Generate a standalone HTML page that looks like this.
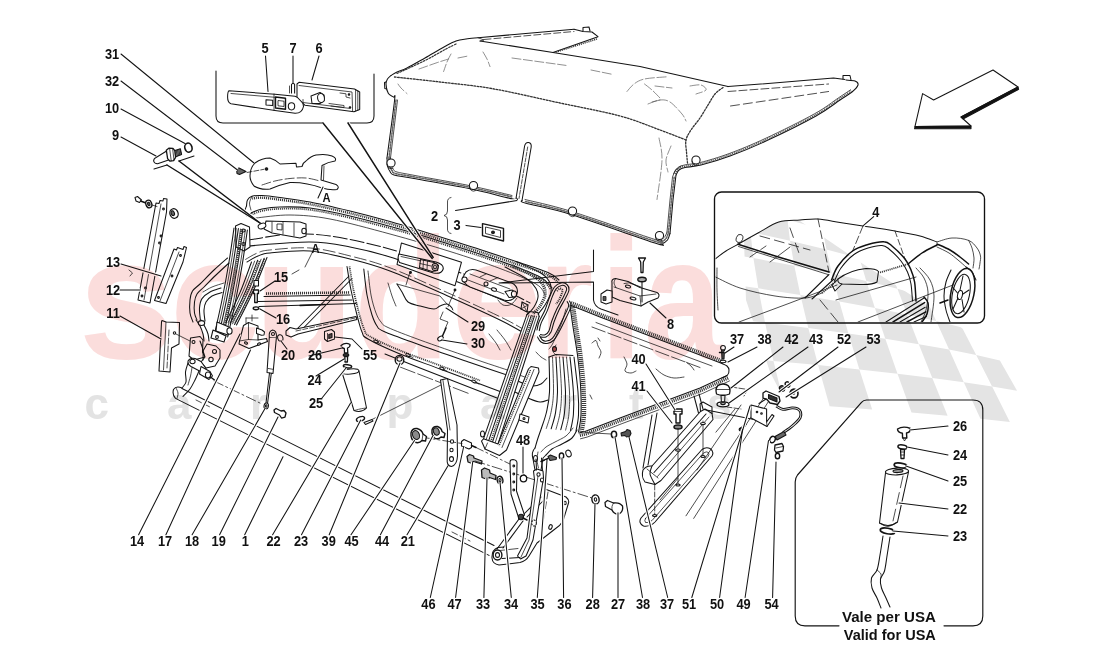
<!DOCTYPE html>
<html lang="en"><head><meta charset="utf-8"><title>Capote - Elements and Fixings</title>
<style>
html,body{margin:0;padding:0;background:#fff;}
body{width:1100px;height:653px;overflow:hidden;}
svg{display:block;}
text{font-family:"Liberation Sans",sans-serif;font-weight:bold;}
.l{fill:none;stroke:#141414;stroke-width:1.05;stroke-linecap:round;stroke-linejoin:round;}
.t{fill:none;stroke:#141414;stroke-width:0.75;stroke-linecap:round;stroke-linejoin:round;}
.b{fill:none;stroke:#111;stroke-width:1.5;stroke-linecap:round;stroke-linejoin:round;}
.h{fill:none;stroke:#3a3a3a;stroke-width:2.6;stroke-dasharray:1.1 0.9;}
.w{fill:#fff;stroke:#141414;stroke-width:1.05;stroke-linejoin:round;}
.n{font-size:14px;fill:#111;text-anchor:middle;}
</style></head><body>
<svg width="1100" height="653" viewBox="0 0 1100 653">
<!-- p00_bg -->
<polygon class="w" points="993,70 1018,87 961,117 971,126 915,126.4 922.6,93.6 933.6,100"/>
<polygon class="w" points="1018,87 1018.6,89.4 963,119 961,117" style="fill:#111"/>
<polygon class="w" points="915,126.4 971,126 971,128.6 914.6,128.8" style="fill:#111"/>
<rect class="b" x="714.5" y="192" width="270" height="131" rx="7" ry="7" fill="none" style="stroke-width:1.35"/>
<path class="l" d="M944 625.8H973Q982.8 625.8 982.8 616V410Q982.8 400 973 400H866.5Q863.5 400 861.5 402.3L797.5 475Q795.2 478 795.2 482V616Q795.2 625.8 805 625.8H839" style="stroke-width:1.15"/>
<path class="l" d="M216 71V116Q216 123 223 123H323"/>
<path class="l" d="M348 123H367Q374 123 374 116V74"/>
<!-- p10_cover -->
<path class="l" d="M391 75.5C392 74.9 394.3 73.2 397 72C399.7 70.8 402.3 70.3 407 68C411.7 65.7 418.8 61.5 425 58C431.2 54.5 438.8 49.8 444 47C449.2 44.2 452.3 42.3 456 41C459.7 39.7 462.3 39.5 466 39C469.7 38.5 469 38.5 478 37.7C487 36.9 504 35.4 520 34C536 32.6 565 30.1 574 29.3"/>
<polyline class="l" points="574,29.3 583,31.5 592,32 598,36.7 553,52.4"/>
<polyline class="l" points="583,31 583,27.5 589,27 590,31"/>
<polyline class="l" points="480,41 553,52.4 640,66.6 728,86.6"/>
<polyline class="t" points="478,37.7 484,40 480,41"/>
<polyline class="t" points="484,39.5 574,31.5" stroke-dasharray="7 3"/>
<polyline class="h" points="556,52 597,39" style="stroke-width:1.6"/>
<polyline class="l" points="728,86.6 780,82.5 833.5,78 845,79.5"/>
<polyline class="l" points="843,79 843,75.5 850,75.5 851,80"/>
<path class="l" d="M846 80C847.5 80.2 853 80.2 855 81C857 81.8 858.5 83.2 858 85C857.5 86.8 855 89.5 852 92C849 94.5 846 96 840 100C834 104 828.2 109.2 816 116C803.8 122.8 781.3 133.9 767 140.6C752.7 147.3 741 151.9 730 156C719 160.1 708.5 163.1 701 165C693.5 166.9 688.7 166.7 685 167.5C681.3 168.3 680.5 168.8 679 170C677.5 171.2 676.5 174.2 676 175"/>
<path class="t" d="M850.6 89.8C848.6 91.2 844.5 93.9 838.6 97.8C832.6 101.8 826.8 107 814.7 113.7C802.6 120.5 780.2 131.6 765.9 138.2C751.6 144.9 740 149.5 729.1 153.6C718.2 157.6 707.8 160.6 700.4 162.5C692.9 164.4 688.3 164 684.4 165C680.6 165.9 679.1 166.6 677.3 168C675.6 169.5 674.4 172.7 673.8 173.7"/>
<path class="h" d="M851.3 90.9C849.3 92.3 845.3 94.9 839.3 98.9C833.3 102.9 827.5 108.1 815.4 114.9C803.2 121.6 780.8 132.8 766.5 139.4C752.1 146.1 740.5 150.7 729.5 154.8C718.6 158.8 708.2 161.8 700.7 163.7C693.2 165.6 688.5 165.4 684.7 166.2C681 167.1 679.8 167.7 678.2 169C676.5 170.4 675.4 173.4 674.9 174.3" style="stroke-width:1.6;stroke:#555"/>
<polyline class="t" points="728,91.5 828.6,84" stroke-dasharray="8 3"/>
<polyline class="t" points="730.5,106 828.6,91.5" stroke-dasharray="9 4"/>
<path class="l" d="M391 75.5C390.4 76.1 388.3 77.6 387.5 79C386.7 80.4 385.9 81.6 386 84C386.1 86.4 387.1 91.4 388.4 93.6C389.6 95.8 392.5 95.8 393.5 97C394.5 98.2 395.6 90.8 394.5 101C393.4 111.2 388.2 148.5 387 158"/>
<polyline class="l" points="386,82 384.5,82.5 384.8,88.5 386.8,89"/>
<polyline class="t" points="397.5,100 390.5,158"/>
<polyline class="t" points="396,100 389,158" stroke-dasharray="1.5 1.5" style="stroke-width:1.6;stroke:#666"/>
<path class="l" d="M387 158C387.1 159.3 387 163.8 387.5 166C388 168.2 388.9 170 390 171.5C391.1 173 390 173.8 394 175C398 176.2 401.5 176.3 414 178.6C426.5 180.8 452.5 185.1 469 188.5C485.5 191.9 505.1 197.4 513 199C520.9 200.6 515.9 198.2 516.5 198"/>
<path class="t" d="M390.5 158C390.6 159.2 390.5 163.1 391 165C391.5 166.9 392.5 168.3 393.5 169.5C394.5 170.7 393.4 171 397 172C400.6 173 403 173.2 415 175.5C427 177.8 452.8 182.2 469 185.5C485.2 188.8 504.8 193.8 512 195.5"/>
<path class="t" d="M389 158C389.1 159.2 389 163.4 389.5 165.5C390 167.6 391 169.2 392 170.5C393 171.8 391.7 172.4 395.5 173.5C399.3 174.6 402.8 174.8 415 177C427.2 179.2 452.8 183.7 469 187C485.2 190.3 504.8 195.3 512 197" stroke-dasharray="1.5 1.5" style="stroke-width:1.6;stroke:#666"/>
<path class="l" d="M522 200.5C522.7 201 517.8 201 526 203.3C534.2 205.6 549.5 207.9 571 214.5C592.5 221.1 639.8 238.2 655 243C670.2 247.8 659.9 243.9 662 243.4C664.1 242.9 666.2 241.7 667.5 240C668.8 238.3 669.6 234.6 670 233.5"/>
<path class="t" d="M525 199.5C532.7 201.5 549.3 204.6 571 211.3C592.7 218 640 234.8 655 239.5C670 244.2 659.3 240 661 239.5C662.7 239 664 237.8 665 236.5C666 235.2 666.7 232.8 667 232"/>
<path class="t" d="M525.5 201.5C533.1 203.4 549.4 206.4 571 213C592.6 219.6 639.9 236.6 655 241.3C670.1 246.1 659.7 242 661.5 241.5C663.3 241 664.8 240 666 238.5C667.2 237 668.1 233.5 668.5 232.5" stroke-dasharray="1.5 1.5" style="stroke-width:1.6;stroke:#666"/>
<polyline class="l" points="670,233.5 673,200 676,175"/>
<polyline class="t" points="667,232 670,200 672.5,177 675,170.5 681,166"/>
<polyline class="t" points="668.5,232.5 671.5,200 674.3,176" stroke-dasharray="1.5 1.5" style="stroke-width:1.6;stroke:#666"/>
<path class="l" d="M394.5 77C402.1 77.8 423.6 80 440 82C456.4 84 472.7 85.2 492.7 88.7C512.7 92.2 538.8 98.5 560 103C581.2 107.5 603.3 111.5 620 116C636.7 120.5 649 126 660 130C671 134 681.7 138.3 686 140" stroke-dasharray="1.7 1.5" style="stroke-width:1.3;stroke:#333"/>
<path class="l" d="M723 87.5C721.7 88.6 717.5 91.1 715 94C712.5 96.9 710.5 101 708 105C705.5 109 702.8 113.8 700 118C697.2 122.2 693.3 126.3 691 130C688.7 133.7 686.8 136.3 686 140C685.2 143.7 686.2 148.2 686.5 152C686.8 155.8 687.3 161.2 687.5 163" stroke-dasharray="1.7 1.5" style="stroke-width:1.3;stroke:#333"/>
<path class="l" d="M397 73.5C401.7 71.3 416.8 64.6 425 60.5C433.2 56.4 440.7 51.8 446 49C451.3 46.2 455.2 44.4 457 43.5" stroke-dasharray="1.7 1.5" style="stroke-width:1.2;stroke:#333"/>
<path class="l" d="M516 198.5L524.6 146Q525.5 142.2 528.6 142.6Q531.6 143.2 531.2 147L522 200.5"/>
<polyline class="t" points="527.7,147 519,198.5" stroke-dasharray="4 1.5"/>
<ellipse class="w" cx="391" cy="163" rx="4.1" ry="4.1"/>
<path class="t" d="M387 164.2a4.1 4.1 0 0 0 6 4"/>
<ellipse class="w" cx="473.5" cy="185.5" rx="4.1" ry="4.1"/>
<path class="t" d="M469.5 186.7a4.1 4.1 0 0 0 6 4"/>
<ellipse class="w" cx="572.5" cy="211" rx="4.1" ry="4.1"/>
<path class="t" d="M568.5 212.2a4.1 4.1 0 0 0 6 4"/>
<ellipse class="w" cx="659.5" cy="235.5" rx="4.1" ry="4.1"/>
<path class="t" d="M655.5 236.7a4.1 4.1 0 0 0 6 4"/>
<ellipse class="w" cx="696" cy="160" rx="4.1" ry="4.1"/>
<path class="t" d="M692 161.2a4.1 4.1 0 0 0 6 4"/>
<polyline class="t" points="512,58 566,65.4" style="stroke-width:.6;stroke:#444" stroke-dasharray="9 2.5"/>
<polyline class="t" points="591,70 613,74.5" style="stroke-width:.6;stroke:#444" stroke-dasharray="9 2.5"/>
<path class="t" d="M451 54C450.3 55.3 448.2 59.1 447 62C445.8 64.9 444.2 69.9 443.6 71.5" style="stroke-width:.6;stroke:#444" stroke-dasharray="9 2.5"/>
<path class="t" d="M419 69C421.8 68 431.1 64.7 436 63C440.9 61.3 446.4 59.7 448.5 59" style="stroke-width:.6;stroke:#444" stroke-dasharray="9 2.5"/>
<path class="t" d="M483 52C483.7 53.2 485.8 56.6 487 59C488.2 61.4 489.5 65.3 490 66.6" style="stroke-width:.6;stroke:#444" stroke-dasharray="9 2.5"/>
<path class="t" d="M398 84C398.5 84.7 399.5 86.4 401 88C402.5 89.6 406 92.7 407 93.6" style="stroke-width:.6;stroke:#444" stroke-dasharray="9 2.5"/>
<polyline class="t" points="458,58 468,56" style="stroke-width:.6;stroke:#444" stroke-dasharray="9 2.5"/>
<path class="t" d="M627 91.5C628.2 90.2 631.1 86.1 634 84C636.9 81.9 639.1 80.2 644.5 79C649.9 77.8 662.9 77.2 666.6 76.8" style="stroke-width:.6;stroke:#444" stroke-dasharray="9 2.5"/>
<path class="t" d="M644.5 84C645.8 85 649.4 87.7 652 90C654.6 92.3 658.7 96.7 660 98" style="stroke-width:.6;stroke:#444" stroke-dasharray="9 2.5"/>
<polyline class="t" points="655,86 672,88" style="stroke-width:.6;stroke:#444" stroke-dasharray="9 2.5"/>
<path class="t" d="M690 86C691.8 85.8 698.3 84.3 701 85C703.7 85.7 706.8 88.5 706 90C705.2 91.5 697.7 93.3 696 94" style="stroke-width:.6;stroke:#444" stroke-dasharray="9 2.5"/>
<path class="t" d="M648 104C650 103.3 656.3 100.3 660 100C663.7 99.7 666.3 99.7 670 102C673.7 104.3 679.3 110.8 682 114C684.7 117.2 685.3 119.8 686 121" style="stroke-width:.6;stroke:#444" stroke-dasharray="9 2.5"/>
<path class="t" d="M659 138C659.5 141.7 662.3 149.8 662 160C661.7 170.2 657.8 192.9 657 199.5" style="stroke-width:.6;stroke:#444" stroke-dasharray="9 2.5"/>
<path class="t" d="M671 146C670.2 148.3 666.5 155.7 666 160C665.5 164.3 667.7 170 668 172" style="stroke-width:.6;stroke:#444" stroke-dasharray="9 2.5"/>
<polyline class="t" points="652,102 660,100" style="stroke-width:.6;stroke:#444" stroke-dasharray="9 2.5"/>
<polygon class="w" points="482.5,223.6 503.5,228.4 503.5,241 482.5,235.6" style="stroke-width:1.4"/>
<polygon class="w" points="485.5,227 500.5,230.5 500.5,237.5 485.5,233.5" style="stroke-width:.8"/>
<ellipse class="w" cx="493" cy="232.3" rx="1.4" ry="1.4" style="fill:#222"/>
<!-- p20_frame -->
<path class="l" d="M246.5 206C246.7 205 246.6 201.6 247.5 200C248.4 198.4 249.6 197.1 252 196.3C254.4 195.6 257.3 195.3 262 195.5C266.7 195.7 272 196.4 280 197.5C288 198.6 298.3 199.8 310 202C321.7 204.2 336.7 207.8 350 211C363.3 214.2 378.3 218.2 390 221.5C401.7 224.8 410 227.4 420 230.5C430 233.6 440 236.8 450 240C460 243.2 469 245.9 480 249.5C491 253.1 504.7 257.7 516 261.5C527.3 265.3 540.8 269.4 548 272.5C555.2 275.6 557.2 278.8 559 280"/>
<path class="h" d="M252.2 198.5C253.8 198.4 257.3 197.5 261.9 197.7C266.5 197.9 271.8 198.6 279.7 199.7C287.7 200.8 298 201.9 309.6 204.2C321.2 206.4 336.2 209.9 349.5 213.1C362.8 216.4 377.8 220.4 389.4 223.6C401.1 226.9 409.4 229.5 419.4 232.6C429.3 235.7 439.3 238.9 449.3 242.1C459.3 245.3 468.3 248 479.3 251.6C490.3 255.2 504 259.8 515.3 263.6C526.6 267.4 540.1 271.5 547.1 274.5C554.2 277.6 556 280.6 557.8 281.8" style="stroke-width:2.4"/>
<path class="l" d="M252 212.5C253.7 211.9 257.3 209.9 262 209C266.7 208.1 272 207.2 280 207C288 206.8 298.3 206.5 310 208C321.7 209.5 333.3 212 350 216C366.7 220 393.3 227.2 410 232C426.7 236.8 435 239.7 450 244.5C465 249.3 485 255.6 500 261C515 266.4 531.3 272.5 540 277C548.7 281.5 550 286.2 552 288"/>
<path class="h" d="M252.6 214.2C254.2 213.6 257.8 211.7 262.3 210.8C266.9 209.9 272.1 209 280 208.8C287.9 208.6 298.2 208.3 309.8 209.8C321.4 211.3 333 213.8 349.6 217.8C366.2 221.7 392.9 229 409.5 233.7C426.2 238.5 434.5 241.4 449.4 246.2C464.4 251 484.4 257.3 499.4 262.7C514.3 268.1 530.6 274.2 539.2 278.6C547.7 283 548.8 287.5 550.8 289.3" style="stroke-width:1.8"/>
<path class="t" d="M256 218C261.7 217.5 277.7 214.8 290 215C302.3 215.2 313.3 215.8 330 219C346.7 222.2 370 228.6 390 234C410 239.4 431.7 245.8 450 251.5C468.3 257.2 485.7 263.1 500 268.5C514.3 273.9 528.5 279.6 536 284C543.5 288.4 543.5 293.2 545 295"/>
<path class="l" d="M249 240C255.8 239 276.5 234.7 290 234C303.5 233.3 316.7 234.3 330 236C343.3 237.7 358.3 241.3 370 244C381.7 246.7 386.7 247.8 400 252C413.3 256.2 433.3 263 450 269C466.7 275 486.7 282.3 500 288C513.3 293.7 525 300.5 530 303" stroke-dasharray="14 3"/>
<path class="l" d="M248 246C258.3 245.3 293 241.8 310 242C327 242.2 336.7 244.5 350 247C363.3 249.5 373.3 251.7 390 257C406.7 262.3 431.7 272 450 279C468.3 286 487 293.5 500 299C513 304.5 523.3 309.8 528 312"/>
<path class="l" d="M247 262C248.8 261 254.2 257.5 258 256C261.8 254.5 261.3 253.8 270 253C278.7 252.2 296.7 250 310 251C323.3 252 336.7 255.7 350 259C363.3 262.3 373.3 264.7 390 271C406.7 277.3 431.7 288.8 450 297C468.3 305.2 487.7 314 500 320C512.3 326 520 330.8 524 333"/>
<path class="t" d="M245.6 259.4C247.5 258.3 252.9 254.8 256.9 253.2C260.9 251.6 260.8 250.9 269.7 250C278.6 249.1 296.7 247 310.2 248C323.7 249 337.3 252.7 350.7 256.1C364.2 259.5 374.3 261.8 391.1 268.2C407.8 274.6 432.8 286.1 451.2 294.3C469.6 302.4 488.9 311.3 501.3 317.3C513.7 323.3 521.4 328.2 525.4 330.4" stroke-dasharray="12 4"/>
<path class="l" d="M246.5 206C246.2 206.8 244.9 209.3 245 211C245.1 212.7 245.8 215.8 247 216C248.2 216.2 251.2 213.1 252 212.5"/>
<path class="t" d="M252 196.3C251.6 197.4 249.7 200.7 249.5 203C249.3 205.3 250.8 208.8 251 210"/>
<polygon class="w" points="266,221 300,222 306,224 306,236 300,238 272,233 264,229"/>
<polyline class="t" points="272,222 272,232"/>
<polyline class="t" points="283,222 283,234"/>
<polyline class="t" points="294,223 294,236"/>
<polygon class="w" points="277,224 282,224 282,230 277,229.5" style="stroke-width:.8"/>
<ellipse class="w" cx="262" cy="226" rx="4" ry="2.6" transform="rotate(-20 262 226)"/>
<ellipse class="w" cx="304" cy="231" rx="2.2" ry="2.8"/>
<polygon class="w" points="401.4,243 461.5,262.2 455,285.7 397,264.5"/>
<path class="w" d="M399 254L436 262Q444 264.5 443.2 269Q441.5 274.5 433.5 273L399.5 262.5Q397 258 399 254Z"/>
<polyline class="t" points="401,256.5 435,264"/>
<polygon class="w" points="420.5,259.5 434,262.5 438.5,265.5 437.5,270.5 432,271.5 419.5,267.5"/>
<ellipse class="w" cx="435" cy="267" rx="3" ry="3.6"/>
<ellipse class="w" cx="435" cy="267" rx="1.4" ry="2"/>
<polyline class="t" points="423.5,260 423,268.5"/>
<polyline class="t" points="427.5,261 427,269.5"/>
<polyline class="t" points="420,263.5 431,266"/>
<polygon class="w" points="235.5,226 241,223.5 249.5,227 250,247 244,251 236,247"/>
<ellipse class="w" cx="243.5" cy="230.5" rx="1.6" ry="1.6"/>
<ellipse class="w" cx="243.5" cy="244" rx="1.6" ry="1.6"/>
<path class="l" d="M234 228C233.2 233.7 231 250 229 262C227 274 224.4 288 222 300C219.6 312 215.8 328.3 214.5 334"/>
<path class="t" d="M236.2 228.3C235.3 234 233.2 250.3 231.2 262.4C229.2 274.4 226.6 288.4 224.2 300.4C221.7 312.5 217.9 328.8 216.6 334.5"/>
<path class="l" d="M238.4 228.6C237.5 234.3 235.3 250.7 233.3 262.7C231.3 274.8 228.7 288.8 226.3 300.9C223.9 312.9 220 329.3 218.8 334.9"/>
<path class="t" d="M240.5 229C239.7 234.6 237.5 251 235.5 263.1C233.5 275.1 230.9 289.2 228.5 301.3C226 313.4 222.2 329.7 220.9 335.4"/>
<path class="l" d="M242.9 229.3C242.1 235 239.9 251.4 237.9 263.5C235.9 275.6 233.3 289.7 230.8 301.8C228.4 313.9 224.5 330.2 223.3 335.9"/>
<path class="t" d="M245.4 229.7C244.5 235.4 242.4 251.8 240.3 263.9C238.3 276 235.7 290.2 233.3 302.3C230.8 314.4 227 330.8 225.7 336.5"/>
<path class="l" d="M247.4 230C246.5 235.7 244.3 252.1 242.3 264.2C240.3 276.3 237.7 290.6 235.2 302.7C232.8 314.8 228.9 331.2 227.7 336.9"/>
<path class="h" d="M241.5 229.1C240.7 234.8 238.5 251.2 236.5 263.2C234.5 275.3 231.9 289.4 229.5 301.5C227 313.6 223.2 329.9 221.9 335.6" style="stroke-width:2.2"/>
<path class="l" d="M251.5 262C249.6 267 244.5 282 240.2 292C236 302 228.4 317 226 322"/>
<path class="t" d="M254.6 261.1C252.6 266.2 247.3 281.6 242.8 291.9C238.4 302.1 230.6 317.5 228.1 322.6"/>
<path class="l" d="M257.7 260.2C255.7 265.4 250 281.2 245.4 291.7C240.9 302.2 232.7 317.9 230.2 323.2"/>
<path class="t" d="M261.1 259.2C259 264.6 253.1 280.8 248.3 291.5C243.5 302.3 235.1 318.5 232.5 323.9"/>
<path class="l" d="M264.2 258.3C262 263.8 255.8 280.4 250.9 291.4C246 302.4 237.3 318.9 234.6 324.5"/>
<path class="l" d="M267 257.5C264.7 263.1 258.3 280 253.2 291.2C248.2 302.5 239.3 319.4 236.5 325"/>
<path class="h" d="M259.5 261C257.4 266.3 251.6 282.8 247 293C242.4 303.2 234.5 317.2 232 322" style="stroke-width:2"/>
<path class="h" d="M264.5 259C262.3 264.7 256.4 282.3 251.5 293C246.6 303.7 237.8 318 235 323" style="stroke-width:1.4"/>
<path class="l" d="M227.5 258C225.2 260 218.6 265.7 214 270C209.4 274.3 203.6 280.5 200 284C196.4 287.5 194.2 288.3 192.5 291C190.8 293.7 190.4 296.3 190 300C189.6 303.7 189.5 309.3 190 313C190.5 316.7 192.5 320.5 193 322"/>
<path class="l" d="M229 263C226.8 265 220.2 271 216 275C211.8 279 207.2 283.8 204 287C200.8 290.2 198.6 291.5 197 294C195.4 296.5 194.9 298.8 194.5 302C194.1 305.2 194.1 310 194.5 313C194.9 316 196.6 318.8 197 320"/>
<path class="l" d="M221 288C219.2 288.7 213.2 290.2 210 292C206.8 293.8 203.8 295.9 202 298.6C200.2 301.3 199.8 304.3 199.5 308C199.2 311.7 200.3 318.8 200.5 321"/>
<path class="l" d="M222 292.5C220.3 293.1 214.7 294.4 212 296C209.3 297.6 207.3 299.7 206 302C204.7 304.3 204.2 306.8 204 310C203.8 313.2 204.8 319.2 205 321"/>
<path class="t" d="M224 283C222 283.7 215.5 285.5 212 287C208.5 288.5 204.5 291.2 203 292"/>
<polygon class="w" points="217,322 229,327 231,331 228,335 216,331"/>
<ellipse class="w" cx="229.5" cy="331" rx="2.6" ry="3.2"/>
<polygon class="w" points="213,330 226,336 224,342 211,338"/>
<ellipse class="w" cx="217" cy="337" rx="1.4" ry="1.4"/>
<path class="l" d="M196 320C196.7 321 198.8 323.7 200 326C201.2 328.3 202.3 331.5 203 334C203.7 336.5 203.8 339.8 204 341"/>
<path class="l" d="M201 320C201.7 321.2 203.8 324.7 205 327C206.2 329.3 207.3 331.7 208 334C208.7 336.3 208.8 339.8 209 341"/>
<ellipse class="w" cx="201.5" cy="323" rx="3.2" ry="2.4"/>
<polyline class="l" points="264,296.5 350,295"/>
<polyline class="h" points="266,293.6 350,292.4" style="stroke-width:2.6"/>
<polyline class="l" points="258,301.5 352,300"/>
<polyline class="l" points="259,306.5 356,303.5"/>
<polyline class="b" points="300,305.5 325,304.5"/>
<polyline class="l" points="349,276 297,329"/>
<polyline class="l" points="352,278.5 300.5,331"/>
<polygon class="w" points="286,331 290,327.5 296,329 356,316.5 357,319.5 298,334 291,337 286,335"/>
<polyline class="t" points="296,331 355,318" stroke-dasharray="5 2"/>
<path class="l" d="M347 266.5C347.7 270.4 349.3 281.9 351 290C352.7 298.1 355.2 308 357 315C358.8 322 360.2 328 362 332C363.8 336 361.7 335.3 368 339C374.3 342.7 388 349 400 354C412 359 426.7 364 440 369C453.3 374 469.3 380 480 384C490.7 388 500 391.5 504 393"/>
<path class="h" d="M349.5 266.5C350.2 270.4 351.8 281.9 353.5 290C355.2 298.1 357.7 308.3 359.5 315C361.3 321.7 362.8 326.4 364.5 330C366.2 333.6 364.1 333.1 370 336.5C375.9 339.9 388.3 345.7 400 350.5C411.7 355.3 426.7 360.5 440 365.5C453.3 370.5 473.3 378 480 380.5" style="stroke-width:1.8"/>
<path class="l" d="M363.8 269C364.3 273.3 365.6 287.3 367 295C368.4 302.7 370.3 309.8 372 315C373.7 320.2 375 323.2 377 326C379 328.8 376.8 328.3 384 331.5C391.2 334.7 405.7 339.8 420 345C434.3 350.2 455 357.3 470 362.5C485 367.7 503.3 373.8 510 376"/>
<path class="t" d="M368 271C368.5 275 369.7 288 371 295C372.3 302 374.3 308.5 376 313C377.7 317.5 379 319.6 381 322C383 324.4 381.5 324.5 388 327.5C394.5 330.5 406.3 335 420 340C433.7 345 454.7 352.2 470 357.5C485.3 362.8 505 369.2 512 371.5"/>
<path class="t" d="M388 283C388.7 285.2 390.7 292.2 392 296C393.3 299.8 395.3 304.3 396 306"/>
<path class="t" d="M497 330C498.3 331.7 502.7 336.7 505 340C507.3 343.3 510 348.3 511 350"/>
<path class="t" d="M489 334C490.2 335.5 494.2 340.3 496 343C497.8 345.7 499.3 348.8 500 350"/>
<path class="l" d="M397 284C397.8 285.3 400.2 289 402 292C403.8 295 405 299.7 408 302C411 304.3 415.7 304.8 420 306C424.3 307.2 430.7 309 434 309C437.3 309 437.8 306.8 440 306C442.2 305.2 445 303.7 447 304C449 304.3 451 306.7 452 308C453 309.3 452.8 311.3 453 312"/>
<polyline class="t" points="397,284 440,296 447,304"/>
<polyline class="t" points="410,272 406,285"/>
<ellipse class="w" cx="410.5" cy="272.5" rx="0.9" ry="0.9" style="fill:#222"/>
<polyline class="t" points="455,290 447,309"/>
<ellipse class="w" cx="455" cy="290" rx="0.9" ry="0.9" style="fill:#222"/>
<polyline class="t" points="443,312 440,319 448,322 445,329"/>
<polyline class="b" points="446,328 442,337"/>
<ellipse class="w" cx="440.5" cy="338.5" rx="3" ry="2" transform="rotate(-30 440.5 338.5)"/>
<polyline class="l" points="385,354 420,368 497,398"/>
<polyline class="t" points="400,367 470,394" stroke-dasharray="16 3"/>
<ellipse class="w" cx="376" cy="341.5" rx="2.4" ry="1.2" transform="rotate(25 376 341.5)"/>
<polyline class="t" points="377.5,342.5 381,344.1"/>
<ellipse class="w" cx="408" cy="355" rx="2.4" ry="1.2" transform="rotate(25 408 355)"/>
<polyline class="t" points="409.5,356 413,357.6"/>
<ellipse class="w" cx="442" cy="368.5" rx="2.4" ry="1.2" transform="rotate(25 442 368.5)"/>
<polyline class="t" points="443.5,369.5 447,371.1"/>
<ellipse class="w" cx="474" cy="381.5" rx="2.4" ry="1.2" transform="rotate(25 474 381.5)"/>
<polyline class="t" points="475.5,382.5 479,384.1"/>
<path class="t" d="M512 371.5C513.7 372.2 518.8 374.9 522 376C525.2 377.1 528.3 378.7 531 378C533.7 377.3 536.8 373 538 372"/>
<path class="l" d="M510 376C511.7 377 516.3 380.3 520 382C523.7 383.7 528.5 385.7 532 386C535.5 386.3 538.5 385.3 541 384C543.5 382.7 546 379 547 378"/>
<path class="l" d="M504 387C505.8 387.8 511 390.2 515 392C519 393.8 523.8 396.3 528 398C532.2 399.7 536.7 401.7 540 402C543.3 402.3 546.7 400.3 548 400"/>
<path class="t" d="M536 352C536.8 352.8 539.3 355.7 541 357C542.7 358.3 545.2 359.5 546 360"/>
<!-- p30_left -->
<path class="w" d="M229 90.7L275 94.3L295 96.3Q303.5 99 303.5 106.5Q302 113.5 295 113.3L275 110.5L231 103.8Q227.5 102.5 227.6 97Q227.6 91.5 229 90.7Z"/>
<polyline class="t" points="231,93.5 275,97.3"/>
<polygon class="w" points="266,99.7 272.7,100.3 272.7,105.6 266,105"/>
<polygon class="w" points="275.5,97 285.5,98.2 285.5,109.2 275.5,108" style="stroke-width:1.4"/>
<polygon class="w" points="278,100.5 284,101.2 284,106.5 278,105.8" style="stroke-width:.8"/>
<ellipse class="w" cx="291.5" cy="106.3" rx="3.2" ry="3.6"/>
<polyline class="t" points="274,94 274,110.5"/>
<path class="w" d="M291.5 93.5V84.5Q293 82 294.6 84.5V93.5"/>
<polyline class="t" points="289.5,86 289.5,93"/>
<polygon class="w" points="297,84 299,82.3 354.5,89 359.7,92 359.7,109.5 354,111.8 305,105.3 297,97"/>
<polyline class="t" points="299,85.5 352,92 352.6,111.4"/>
<polyline class="t" points="355.6,90 355.6,111"/>
<polyline class="t" points="357.8,91 357.8,110.2"/>
<polyline class="t" points="303,99.5 303,102.5 349,108.3"/>
<polygon class="w" points="311,96 320,92.5 324,95 324.5,100.5 320,103.5 312,103.5"/>
<ellipse class="w" cx="321" cy="98" rx="3.4" ry="4.6" transform="rotate(-10 321 98)"/>
<polyline class="t" points="329,103.5 344,105.5 344,107.5 331,106"/>
<polyline class="t" points="340,93 346,93.8 346,97 350,98"/>
<ellipse class="w" cx="349" cy="94.5" rx="0.8" ry="0.8" style="fill:#222"/>
<ellipse class="w" cx="350" cy="107.5" rx="0.8" ry="0.8" style="fill:#222"/>
<path class="w" d="M156.5 157.2L167 150.8L170 159.6L157.6 163.8Q154.2 163.6 153.6 161Q153.6 158.3 156.5 157.2Z"/>
<polygon class="w" points="166.3,150.2 168.8,148.2 173,148.4 175,151 175.6,157.4 173.6,160.6 170,161.2 167.6,158.6" style="stroke-width:1.3"/>
<polyline class="t" points="169.6,148.4 171.2,160.8"/>
<polyline class="t" points="172.6,148.6 174,160"/>
<polygon class="w" points="175,150.4 180.4,148.8 181.6,154.4 175.6,156.8" style="fill:#999"/>
<polyline class="t" points="176.2,150.2 177.2,156"/>
<polyline class="t" points="177.5,149.8 178.5,155.5"/>
<polyline class="t" points="178.8,149.5 179.8,155"/>
<polyline class="t" points="180.1,149.1 181.1,154.5"/>
<ellipse class="w" cx="188.4" cy="147.6" rx="3.6" ry="4.6" transform="rotate(-15 188.4 147.6)" style="stroke-width:1.6"/>
<path class="w" d="M255 163Q262 158 270 158Q276 160 280 164L296 163.2L296.5 167L302 166.5Q303 162.5 306 161Q311 156 316 155Q326 153.5 332 156Q337 158 335 161Q328 162 322 165.5L321 180L336 184.5Q340 187 337 189.5Q330 190.5 322 188Q306 182 290 182.5Q279 185 270 189Q260 190 254 186Q250 181 250 176Q250 168 255 163Z"/>
<path class="t" d="M262 185C264.2 184.3 270.3 182.1 275 181C279.7 179.9 284.8 179 290 178.5C295.2 178 301 177.6 306 178C311 178.4 317.7 180.5 320 181" stroke-dasharray="9 3"/>
<polyline class="t" points="324,166 323.5,180"/>
<ellipse class="w" cx="266.5" cy="169" rx="1.3" ry="1.3" style="fill:#222"/>
<polyline class="t" points="247,172.5 264,169.3" stroke-dasharray="5 2"/>
<polygon class="w" points="236.5,169 239,168 246,171.5 239.5,174.5 237,173.5" style="fill:#666"/>
<polygon class="w" points="156,203 159,203.5 160,200.5 163,201 163.5,198.5 167,199 166.5,212 150,303 138,300"/>
<polyline class="t" points="161,204 144,300"/>
<ellipse class="w" cx="163.5" cy="209" rx="0.9" ry="0.9"/>
<ellipse class="w" cx="161" cy="236" rx="0.9" ry="0.9"/>
<ellipse class="w" cx="159.5" cy="243" rx="0.9" ry="0.9"/>
<ellipse class="w" cx="145.5" cy="288" rx="0.9" ry="0.9"/>
<ellipse class="w" cx="142" cy="296" rx="0.9" ry="0.9"/>
<polygon class="w" points="174,249 176.5,250 177.5,247.5 183,249.5 184,246.5 186.5,247.5 183,262 166,303.5 154.5,300.5"/>
<polyline class="t" points="179,252 160,301"/>
<ellipse class="w" cx="180.5" cy="255.5" rx="0.9" ry="0.9"/>
<ellipse class="w" cx="172" cy="276" rx="0.9" ry="0.9"/>
<ellipse class="w" cx="158.5" cy="297.5" rx="0.9" ry="0.9"/>
<polygon class="w" points="135,197.5 137.5,196.5 141.5,200 139.5,202.5 136,201"/>
<polyline class="b" points="140.5,201 146,203"/>
<ellipse class="w" cx="148.8" cy="204" rx="2.9" ry="3.9" transform="rotate(-20 148.8 204)" style="stroke-width:1.4"/>
<ellipse class="w" cx="148.8" cy="204" rx="1.2" ry="1.8" transform="rotate(-20 148.8 204)" style="fill:#555"/>
<ellipse class="w" cx="174" cy="213.5" rx="4.1" ry="4.8" transform="rotate(-20 174 213.5)" style="stroke-width:1.3"/>
<ellipse class="w" cx="172.8" cy="213.2" rx="1.6" ry="2.5" transform="rotate(-20 172.8 213.2)" style="fill:#666"/>
<polyline class="t" points="152,205 157,206.5"/>
<polyline class="t" points="129,270 132.5,273 130,276"/>
<polygon class="w" points="162,320.5 166,322 179.5,322.5 179,344 171.5,348 170,372 159,371 161.5,322"/>
<polyline class="t" points="166,322 163.5,370"/>
<polyline class="t" points="169,330 167,368" stroke-dasharray="6 2"/>
<ellipse class="w" cx="174.5" cy="333" rx="1.2" ry="1.2"/>
<polyline class="t" points="176,334 190,341"/>
<polygon class="w" points="190.5,338 200,336.5 203,340 202.5,352 205,357 194,360 189,356"/>
<ellipse class="w" cx="193.5" cy="342" rx="1.5" ry="1.5"/>
<polygon class="w" points="207,344 216,346 220,350 220,358 215,366 206,368 201,362 205,357 203,351"/>
<ellipse class="w" cx="214.5" cy="351.5" rx="2" ry="2"/>
<ellipse class="w" cx="211" cy="359.5" rx="2.2" ry="2.2"/>
<path class="l" d="M200 341C200.5 342.5 202.5 346.8 203 350C203.5 353.2 203 358.3 203 360"/>
<path class="w" d="M188 361Q190 357.5 195 358.5L201 361.5L206 368.5Q204.5 372 200.5 371.5L191 366.5Q187.5 364.5 188 361Z"/>
<ellipse class="w" cx="192.5" cy="361.5" rx="2.6" ry="2.2"/>
<polygon class="w" points="201,366.5 210,371.5 212.5,376 209,379.5 199.5,374"/>
<ellipse class="w" cx="208" cy="375" rx="2.6" ry="3"/>
<polyline class="b" points="210.5,377 214.5,380"/>
<path class="l" d="M188 363C187.6 364.5 185.8 368.8 185.5 372C185.2 375.2 186.6 379.3 186 382C185.4 384.7 182.7 387 182 388"/>
<path class="l" d="M199 371C198.3 372.5 196.5 377 195 380C193.5 383 192 386.2 190 389C188 391.8 184.2 395.2 183 396.5"/>
<path class="t" d="M192 367.5C191.8 368.9 191.2 373.1 190.5 376C189.8 378.9 188.4 383.5 188 385"/>
<path class="l" d="M182 388Q176 385.5 173.5 389.5Q172 394.5 175.5 398.4L489 555.4"/>
<polyline class="l" points="182,388.5 494,545.5"/>
<path class="t" d="M176 388C176.3 388.8 177.8 391.2 178 393C178.2 394.8 177.2 397.6 177 398.5"/>
<polyline class="t" points="196,400 210,407" stroke-dasharray="6 3"/>
<polyline class="t" points="452,532 470,541" stroke-dasharray="6 3"/>
<polygon class="w" points="243.5,325.5 248.5,322.5 258,326 258,340 266.5,338.5 267.5,341.5 249,348.5 239,344 239.5,341"/>
<polyline class="t" points="248.5,322.5 248.5,339.5 239.5,341"/>
<polyline class="t" points="248.5,339.5 258,340"/>
<polygon class="w" points="256.5,328 262,330 264.5,332 264,335 261.5,335.2 256.5,333.5"/>
<ellipse class="w" cx="246" cy="343" rx="1.6" ry="1" transform="rotate(20 246 343)"/>
<ellipse class="w" cx="259" cy="344" rx="1.6" ry="1" transform="rotate(-20 259 344)"/>
<polyline class="t" points="252,315 252,321"/>
<polyline class="t" points="246,318 258,318"/>
<polyline class="t" points="246,318 246,323"/>
<polygon class="w" points="253.5,290 258.5,290 258.5,293.5 257.3,293.5 257.3,302.5 254.7,302.5 254.7,293.5 253.5,293.5" style="stroke-width:1.3"/>
<ellipse class="w" cx="256" cy="308.3" rx="2.8" ry="1.4" style="stroke-width:1.4"/>
<polygon class="w" points="254,280.5 258.5,280.5 258.5,286 254,286"/>
<path class="w" d="M269.3 337L267 372.5L273 373.5L276.4 337.5Z"/>
<path class="w" d="M269.3 337Q268.5 331 272.6 330Q277 330.5 276.4 337.5"/>
<ellipse class="w" cx="273" cy="334" rx="1.5" ry="1.5"/>
<polyline class="t" points="268.3,368.5 272.9,369.3"/>
<polyline class="l" points="269.5,373 266,403"/>
<polyline class="l" points="271.3,373.2 267.6,403"/>
<ellipse class="w" cx="266.2" cy="406" rx="2.2" ry="3" transform="rotate(10 266.2 406)"/>
<ellipse class="w" cx="266.2" cy="406" rx="0.8" ry="1.2" transform="rotate(10 266.2 406)"/>
<polyline class="t" points="214,381 262,404" stroke-dasharray="10 3 2 3"/>
<polygon class="w" points="274,410 276,408.5 281,411 284,410.5 286,413 285,417 281.5,418 279.5,415 274.5,412.5" style="stroke-width:1.3"/>
<ellipse class="w" cx="280.3" cy="338" rx="2.6" ry="3.3" transform="rotate(-15 280.3 338)" style="fill:#fff"/>
<polygon class="w" points="324.5,331.5 331.5,329.5 334.5,332 334.5,339 327.5,341.5 324.5,339"/>
<polyline class="t" points="327.5,333.5 327.5,341"/>
<polygon class="w" points="328.8,334.5 332,333.6 332,337.5 328.8,338.5" style="fill:#555"/>
<path class="w" d="M341 345.5Q345.5 342 350 344.5Q350.5 347 347.5 348L347.8 353H344.5L344.3 348.5Q341 348 341 345.5Z" style="stroke-width:1.3"/>
<ellipse class="w" cx="346" cy="355" rx="2.8" ry="1.6" style="fill:#333"/>
<polygon class="w" points="344.8,356.5 347.6,356.5 347.4,362 345,362" style="stroke-width:1.3"/>
<ellipse class="w" cx="347.5" cy="366.3" rx="4.2" ry="1.6" transform="rotate(8 347.5 366.3)" style="stroke-width:1.5"/>
<path class="w" d="M342 372.5Q350 368 359 371L366.5 408Q361 413.5 354 410.5Z"/>
<ellipse class="w" cx="350.5" cy="371.5" rx="8.4" ry="2.6" transform="rotate(-5 350.5 371.5)"/>
<path class="t" d="M354.5 410.5C355.4 410.2 358.1 409.4 360 409C361.9 408.6 365 408.2 366 408"/>
<ellipse class="w" cx="360.5" cy="419" rx="4.2" ry="2.2" transform="rotate(-20 360.5 419)" style="stroke-width:1.4"/>
<polygon class="w" points="364,422.5 372,419.5 373,421 365.5,424.5"/>
<polyline class="t" points="372,419.5 447,382"/>
<ellipse class="w" cx="399.5" cy="360" rx="4.3" ry="4.6" style="stroke-width:1.4"/>
<ellipse class="w" cx="399.5" cy="359" rx="2.6" ry="2.2"/>
<!-- p40_center -->
<path class="w" d="M466 272Q470 268.5 476 270L512 283Q519 287 517 294Q513 302.5 504 300L470 287Q462.5 283 463 277Z"/>
<polyline class="t" points="470,274 510,289"/>
<polyline class="t" points="468,280 504,294"/>
<ellipse class="w" cx="464.5" cy="279.5" rx="2.6" ry="2.6"/>
<ellipse class="w" cx="486" cy="284" rx="2" ry="2"/>
<ellipse class="w" cx="494" cy="289.5" rx="2.6" ry="1.6" transform="rotate(20 494 289.5)"/>
<polygon class="w" points="505,291.5 512,290 516,293 515,297 509,297.5"/>
<ellipse class="w" cx="514" cy="294" rx="2.6" ry="3"/>
<path class="t" d="M498 300C498.8 300.8 500.8 304.2 503 305C505.2 305.8 508.7 305.7 511 304.5C513.3 303.3 516 299.1 517 298"/>
<polyline class="t" points="480,277 486,274"/>
<polyline class="t" points="490,281 498,277.5"/>
<path class="l" d="M516 261.5C520 263.3 534.5 269.2 540 272.5C545.5 275.8 547.2 277.8 549 281C550.8 284.2 551.7 288 551 292C550.3 296 547.2 301.3 545 305C542.8 308.7 539.2 312.5 538 314"/>
<path class="h" d="M512 265.5C515.7 267.3 528.8 273.2 534 276.5C539.2 279.8 541.2 281.9 543 285C544.8 288.1 545.5 291.5 545 295C544.5 298.5 542 302.8 540 306C538 309.2 534.2 312.7 533 314" style="stroke-width:3.2"/>
<path class="l" d="M505 267C508.7 269 521.8 275.4 527 279C532.2 282.6 534.2 285.5 536 288.5C537.8 291.5 538.3 293.9 538 297C537.7 300.1 535.8 304 534 307C532.2 310 528.2 313.7 527 315"/>
<polygon class="w" points="522,302 528,305 527,312 521,309"/>
<polyline class="t" points="522,302 527,312"/>
<polyline class="t" points="528,305 521,309"/>
<polygon class="w" points="526.8,314.8 539.2,316.5 498,444 483.5,438.8" style="stroke:none"/>
<polyline class="l" points="526.8,314.8 483.5,438.8"/>
<polyline class="t" points="529,315.1 486.1,439.7"/>
<polyline class="l" points="531.3,315.4 488.7,440.7"/>
<polyline class="l" points="534.5,315.9 492.5,442"/>
<polyline class="t" points="536.7,316.2 495.1,443"/>
<polyline class="l" points="539.2,316.5 498,444"/>
<polyline class="h" points="533,315.6 490.8,441.4" style="stroke-width:1.6"/>
<polyline class="l" points="526.8,314.8 529,311.5 538,312.5 539.2,316.5"/>
<polygon class="w" points="528.5,369 531,366.5 538.5,368 539,372 506.5,450 499.5,455.5 485,449 481.5,441 483.5,438.8 498,444"/>
<polyline class="t" points="534,369.5 502,447.5"/>
<polyline class="t" points="485,449 487.5,443"/>
<polyline class="h" points="530.5,370 499,446" style="stroke-width:1.4"/>
<ellipse class="w" cx="482.5" cy="434" rx="2" ry="3"/>
<path class="l" d="M537 330C537.3 328.7 537.7 325.3 539 322C540.3 318.7 543.2 314.3 545 310C546.8 305.7 548.4 299.8 550 296C551.6 292.2 552.7 289.2 554.5 287C556.3 284.8 558.9 283.4 561 283C563.1 282.6 565.7 283.3 567 284.5C568.3 285.7 569.3 287.6 569 290C568.7 292.4 566.7 295.7 565 299C563.3 302.3 560.8 306.2 559 310C557.2 313.8 555.3 318.3 554 322C552.7 325.7 552.3 329.5 551 332C549.7 334.5 547.8 336.2 546 337C544.2 337.8 541.4 337 540.5 337"/>
<path class="l" d="M539.3 330.6C539.6 329.3 539.9 326.2 541.2 322.9C542.5 319.6 545.4 315.3 547.2 310.9C549 306.6 550.7 300.6 552.2 296.9C553.7 293.2 554.8 290.5 556.3 288.6C557.9 286.6 560 285.7 561.5 285.4C563 285 564.6 285.6 565.4 286.3C566.3 287 567.1 287.7 566.6 289.7C566.2 291.6 564.5 294.7 562.9 297.9C561.2 301.1 558.7 305.1 556.8 309C555 312.8 553.1 317.5 551.7 321.2C550.4 324.8 550 328.6 548.9 330.9C547.8 333.1 546.4 334.2 545 334.8C543.6 335.5 541.2 334.6 540.5 334.6"/>
<path class="l" d="M569.5 301C569.8 301.9 571.6 303.7 571 306.5C570.4 309.3 568 313.8 566 318C564 322.2 561 328.3 559 332C557 335.7 556 338.1 554 340C552 341.9 549.2 343.2 547 343.5C544.8 343.8 542.6 343.1 541 342C539.4 340.9 538.1 337.8 537.5 337"/>
<path class="l" d="M567.2 301.6C567.4 302.4 569.2 303.5 568.6 306C568.1 308.6 565.8 312.8 563.8 317C561.9 321.1 558.8 327.3 556.9 330.9C555 334.4 554 336.6 552.3 338.3C550.6 340 548.3 340.8 546.6 341.1C545 341.4 543.6 340.9 542.4 340C541.2 339.1 539.9 336.4 539.5 335.6"/>
<path class="t" d="M566 309C565.3 311.2 563.5 317.8 562 322C560.5 326.2 558.6 330.3 557 334C555.4 337.7 553.8 341.5 552.5 344C551.2 346.5 549.6 348.2 549 349"/>
<path class="h" d="M557 291C557.5 290.6 559.1 288.5 560 288.5C560.9 288.5 562.7 289.1 562.5 291C562.3 292.9 560.1 297.8 559 300C557.9 302.2 556.5 303.3 556 304" style="stroke-width:2"/>
<path class="l" d="M570 306C570.6 310 572.2 321.8 573.5 330C574.8 338.2 576.3 345.8 577.5 355C578.7 364.2 579.9 375 580.5 385C581.1 395 581.3 407.2 581 415C580.7 422.8 578.9 429.2 578.5 432"/>
<path class="h" d="M572.8 305.6C573.4 309.6 575 321.4 576.3 329.6C577.5 337.8 579.1 345.4 580.3 354.6C581.4 363.9 582.7 374.8 583.3 384.8C583.9 394.9 584.1 407.2 583.8 415.1C583.5 423 581.7 429.5 581.3 432.4" style="stroke-width:4.6"/>
<polygon class="w" points="549,357 549.5,392 546.5,412 541.5,428 576,431 578.5,415 578,392 574,357" style="stroke:none"/>
<path class="l" d="M549 357C549.1 362.8 549.9 382.8 549.5 392C549.1 401.2 547.8 406 546.5 412C545.2 418 542.3 425.3 541.5 428"/>
<path class="t" d="M552.5 357C552.7 362.8 553.7 382.8 553.5 392C553.2 401.2 552.2 406.4 551 412.4C549.8 418.5 547.1 425.8 546.3 428.4"/>
<path class="l" d="M556 357C556.2 362.8 557.6 382.7 557.5 392C557.4 401.3 556.5 406.7 555.5 412.8C554.4 419 551.9 426.2 551.2 428.8"/>
<path class="t" d="M559.5 357C559.8 362.8 561.4 382.6 561.5 392C561.5 401.4 560.9 407.1 559.9 413.3C559 419.5 556.6 426.6 556 429.3"/>
<path class="l" d="M563 357C563.4 362.8 565.2 382.6 565.5 392C565.7 401.4 565.2 407.4 564.4 413.7C563.6 420 561.4 427 560.8 429.7"/>
<path class="t" d="M566.5 357C567 362.8 569.1 382.5 569.5 392C569.9 401.5 569.5 407.8 568.9 414.1C568.3 420.5 566.2 427.4 565.6 430.1"/>
<path class="l" d="M570 357C570.6 362.8 572.9 382.4 573.4 392C574 401.6 573.9 408.1 573.4 414.5C572.9 420.9 571 427.9 570.5 430.5"/>
<path class="l" d="M574 357C574.7 362.8 577.2 382.3 578 392C578.8 401.7 578.8 408.5 578.5 415C578.2 421.5 576.4 428.3 576 431"/>
<polyline class="l" points="549,357 556,354.5 573,355.5"/>
<path class="l" d="M541.5 428C540.9 429.7 539.1 434.7 538 438C536.9 441.3 535.5 446.3 535 448"/>
<path class="t" d="M556 345C555.5 346 553 349.3 553 351C553 352.7 555.5 354.3 556 355"/>
<path class="l" d="M577 430C576.2 431.3 574.5 435.7 572 438C569.5 440.3 565.3 442.2 562 444C558.7 445.8 554.7 447.2 552 449C549.3 450.8 547 454 546 455"/>
<path class="t" d="M573 428C571.8 429.3 569 433.7 566 436C563 438.3 558.3 440.2 555 442C551.7 443.8 548.3 445.3 546 447C543.7 448.7 541.8 451.2 541 452"/>
<ellipse class="w" cx="554.5" cy="349" rx="2" ry="2.4" style="fill:#a55"/>
<polygon class="w" points="520,414 529,417 528,423 519,420"/>
<ellipse class="w" cx="524" cy="418.5" rx="1" ry="1"/>
<path class="l" d="M535 448Q531 452 533 459L535 470Q538 474 541 470L543 458Q546 455 546 455"/>
<path class="t" d="M538 452C537.8 453.3 536.9 457.3 537 460C537.1 462.7 538.2 466.7 538.5 468"/>
<ellipse class="w" cx="535.5" cy="458.5" rx="2" ry="3"/>
<path class="w" d="M440.5 380L447.5 378.5L457 425L457.5 456Q457 465 451.5 466.5Q446.5 466 447.2 459L447.5 430Z"/>
<ellipse class="w" cx="452" cy="441.5" rx="1.6" ry="1.8"/>
<ellipse class="w" cx="451.5" cy="450" rx="1.6" ry="1.8"/>
<ellipse class="w" cx="451.5" cy="459" rx="2" ry="2.4"/>
<polyline class="t" points="443,380.5 450,430"/>
<path class="w" d="M411 433Q412 428 417 428.5Q422 430 423 434L426.5 436.5L425.5 441L422 440.5Q419 444 414.5 442Q410.5 439 411 433Z" style="stroke-width:1.4"/>
<ellipse class="w" cx="416" cy="435" rx="3.4" ry="4.6" transform="rotate(-20 416 435)" style="fill:#8a8a8a"/>
<polyline class="t" points="423,434 422,440.5"/>
<path class="w" d="M432 430Q433 426 437.5 426.5Q441.5 428 442 431.5L445 433.5L444 437.5L441 437Q438 440 434.5 438Q431.5 435 432 430Z" style="stroke-width:1.4"/>
<ellipse class="w" cx="436.3" cy="431.5" rx="2.8" ry="3.8" transform="rotate(-20 436.3 431.5)" style="fill:#8a8a8a"/>
<polygon class="w" points="461.5,441.5 464,439.5 471.5,443 471.5,447.5 469,449 461.5,446"/>
<polyline class="b" points="471.5,445.5 476,447.5"/>
<polygon class="w" points="467,456.5 469.5,454.5 473.5,456 474,458 482,461 481.5,464 473.5,461.5 472,463.5 468,462" style="stroke-width:1.3;fill:#bbb"/>
<polygon class="w" points="481.5,470 484.5,468 489.5,470 490,473 496,475.5 495.5,479.5 489.5,477.5 487.5,479.5 482,477.5" style="stroke-width:1.3;fill:#bbb"/>
<ellipse class="w" cx="500" cy="480" rx="2.8" ry="3.8" transform="rotate(-15 500 480)" style="stroke-width:1.4"/>
<ellipse class="w" cx="500" cy="480" rx="1" ry="1.6" transform="rotate(-15 500 480)"/>
<polyline class="t" points="427,438 462,443.5" stroke-dasharray="8 3 2 3"/>
<polyline class="t" points="476,447.5 514,466" stroke-dasharray="8 3 2 3"/>
<polyline class="t" points="475,461 592,498" stroke-dasharray="10 3 2 3"/>
<path class="w" d="M510 462Q510 459.5 513 459.5Q517 460 517 463L516.5 491L524.5 515L519 519L511 494Z"/>
<ellipse class="w" cx="513.8" cy="466" rx="0.9" ry="0.9"/>
<ellipse class="w" cx="513.8" cy="474" rx="0.9" ry="0.9"/>
<ellipse class="w" cx="513.8" cy="482" rx="0.9" ry="0.9"/>
<ellipse class="w" cx="513.8" cy="490" rx="0.9" ry="0.9"/>
<ellipse class="w" cx="523.5" cy="478.5" rx="3.2" ry="3.4" style="stroke-width:1.3"/>
<polyline class="t" points="520.5,477 524,474.5 527,477"/>
<ellipse class="w" cx="521" cy="517" rx="2.6" ry="2.8" style="fill:#444"/>
<polyline class="b" points="523,518 527,520"/>
<polyline class="l" points="519,519 497,549"/>
<polyline class="l" points="523,521 503,548"/>
<polyline class="l" points="524,514 541,497"/>
<polyline class="l" points="527,517 543,501"/>
<path class="w" d="M533.5 471L537 469L543 471L543.5 478L533 540L526 556L520.5 559L517.5 556L527 538L534.5 480Z"/>
<polyline class="t" points="538,476 529,540 521,557"/>
<ellipse class="w" cx="538.5" cy="474.5" rx="1.6" ry="1.8"/>
<ellipse class="w" cx="542" cy="480" rx="1.6" ry="2"/>
<polyline class="l" points="536,459 536.5,470"/>
<polyline class="l" points="541.5,458 542.5,470.5"/>
<path class="l" d="M545 489L566 497Q569.5 500 568.5 503L563 521Q560 526 555 529L537 543L529 556Q526 561 520 562.5L499 565Q492.5 564 492 558Q491.5 550 498 547.5L504 547"/>
<ellipse class="w" cx="497.5" cy="555" rx="4.4" ry="5" style="stroke-width:1.4"/>
<ellipse class="w" cx="497.5" cy="555" rx="2" ry="2.4"/>
<polyline class="l" points="502,558.5 520,557.5"/>
<polyline class="t" points="500,550.5 518,548.5"/>
<ellipse class="w" cx="565" cy="503" rx="1.2" ry="1.8"/>
<ellipse class="w" cx="550.5" cy="527" rx="1.6" ry="2.4" transform="rotate(20 550.5 527)"/>
<ellipse class="w" cx="534" cy="523" rx="2.4" ry="3" stroke-dasharray="2 1"/>
<polyline class="t" points="548,492 541,535" stroke-dasharray="7 3"/>
<polygon class="w" points="548,456.5 550.5,455 556.5,457.5 556,459.5 550,460.5" style="fill:#666"/>
<polyline class="b" points="541,461.5 548,458.5"/>
<ellipse class="w" cx="561.5" cy="456" rx="2.2" ry="3" style="stroke-width:1.4"/>
<ellipse class="w" cx="568.5" cy="453.5" rx="2.6" ry="3.4" transform="rotate(-20 568.5 453.5)"/>
<ellipse class="w" cx="595.5" cy="499.5" rx="3.6" ry="4.6" transform="rotate(-10 595.5 499.5)" style="stroke-width:1.4"/>
<ellipse class="w" cx="595.5" cy="499.5" rx="1.2" ry="1.8" transform="rotate(-10 595.5 499.5)"/>
<path class="w" d="M605 502.5L607.5 500.5L613.5 503Q619.5 502 622.5 506Q623.5 511.5 619 514Q614 514.5 612 510L605.5 506.5Z" style="stroke-width:1.3"/>
<path class="t" d="M613.5 503C613.2 503.6 612.2 505.3 612 506.5C611.8 507.7 612 509.4 612 510"/>
<ellipse class="w" cx="614" cy="434.5" rx="2.6" ry="3.2" style="stroke-width:1.5"/>
<polygon class="w" points="621,433 625.5,431.5 627,429.5 630,430.5 631,433.5 629.5,436.5 626.5,437 625,435.5 621.5,436" style="fill:#555"/>
<polyline class="t" points="585,432.5 611,434"/>
<!-- p45_car -->
<defs><clipPath id="cc"><rect x="715.5" y="193" width="268" height="129" rx="6"/></clipPath></defs><g clip-path="url(#cc)">
<path class="l" d="M738 244.3C741.3 242.4 751.2 236.7 758 233C764.8 229.3 771.8 224.2 778.8 222C785.8 219.8 793.5 220.5 800 220C806.5 219.5 811.3 218.6 818 219C824.7 219.4 832.5 221.3 840 222.5C847.5 223.7 853.8 224.6 863 226C872.2 227.4 885.5 229.3 895 231C904.5 232.7 913 234.2 920 236C927 237.8 934.2 241 937 242"/>
<polyline class="b" points="738,244.3 780,257.5 829,272"/>
<polyline class="t" points="738.5,246.5 828,274.5"/>
<path class="b" d="M831.5 280C832.6 277.7 834.5 270.8 838 266C841.5 261.2 847.6 254.6 852.6 251C857.6 247.4 862.8 246.1 868 244.5C873.2 242.9 880 241.4 884 241.7C888 241.9 888.5 243.1 892 246C895.5 248.9 901.8 255 905 259C908.2 263 909.4 266.2 911 270C912.6 273.8 913.8 276.8 914.6 282C915.4 287.2 915.8 297.8 916 301"/>
<path class="l" d="M834.5 281C835.6 278.8 837.8 272.4 841 268C844.2 263.6 849.5 257.8 854 254.5C858.5 251.2 863.3 249.5 868 248C872.7 246.5 878.5 245.3 882 245.5C885.5 245.7 885.8 246.4 889 249C892.2 251.6 897.9 257.2 901 261C904.1 264.8 905.8 268.2 907.5 272C909.2 275.8 910.2 279.2 911 284C911.8 288.8 912.2 298.2 912.5 301"/>
<path class="b" d="M908 264C910.3 262.2 917.2 256.2 922 253C926.8 249.8 934.5 246.3 937 245"/>
<path class="b" d="M937 244C939.2 245 946.2 247.8 950 250C953.8 252.2 956.9 254.7 960 257C963.1 259.3 967.2 262.8 968.6 264"/>
<path class="t" d="M937 247C939 248 945.5 250.8 949 253C952.5 255.2 955.2 257.7 958 260C960.8 262.3 964.7 265.8 966 267"/>
<polyline class="t" points="863,226 852.6,251" stroke-dasharray="8 3"/>
<polyline class="t" points="818,219 829,272" stroke-dasharray="8 4"/>
<polyline class="t" points="895,231 905,259" stroke-dasharray="6 3"/>
<polyline class="t" points="760,236 810,250" stroke-dasharray="10 5"/>
<polyline class="t" points="790,228 800,256" stroke-dasharray="10 6"/>
<polyline class="t" points="770,262 790,247"/>
<polyline class="t" points="750,257 766,246" stroke-dasharray="9 4"/>
<path class="l" d="M715.5 258.8C717.2 257.5 722.2 253.4 726 251C729.8 248.6 736 245.4 738 244.3"/>
<ellipse class="w" cx="739.5" cy="238.5" rx="3.2" ry="4.2" transform="rotate(20 739.5 238.5)" style="fill:none;stroke-width:.8"/>
<path class="t" d="M715.5 277C719.6 278.8 730.1 284.8 740 288C749.9 291.2 764.2 294.3 775 296C785.8 297.7 797.2 298.5 805 298C812.8 297.5 819.2 293.8 822 293"/>
<path class="t" d="M717 268C717 271.7 716.8 283 717 290C717.2 297 717.8 306.7 718 310"/>
<polyline class="t" points="739,322 790,303 837,285"/>
<polyline class="l" points="805,298 829,274.5"/>
<polyline class="l" points="812,299 834,279"/>
<polyline class="h" points="822,293 836,281" style="stroke-width:2"/>
<polyline class="t" points="820,300 838,322" stroke-dasharray="12 5"/>
<polyline class="t" points="836,300 916,277"/>
<polyline class="t" points="858,322 953,285"/>
<polyline class="h" points="880,272.5 908,264" style="stroke-width:1.8"/>
<path class="w" d="M838 279Q850 270 866 268.5Q876 268.5 878.5 271.5L877 282Q872 285 860 284.5L842 284Q837 283 838 279Z"/>
<polyline class="l" points="838,279 832,285 835,291 842,284"/>
<path class="t" d="M916 268C917.3 269.7 922 274 924 278C926 282 927.7 286.7 928 292C928.3 297.3 927.2 305 926 310C924.8 315 921.8 320 921 322"/>
<path class="t" d="M920 268C921.7 270 927.7 275.3 930 280C932.3 284.7 933.8 289 934 296C934.2 303 931.5 317.7 931 322"/>
<polyline class="l" points="886,322 924,298"/>
<polyline class="b" points="893,322 924.6,302.6"/>
<polyline class="l" points="900,322 925.2,307.2"/>
<polyline class="b" points="907,322 925.8,311.8"/>
<polyline class="l" points="914,322 926.4,316.4"/>
<path class="b" d="M924 297C924.7 298 927.5 300.2 928 303C928.5 305.8 928 310.8 927 314C926 317.2 922.8 320.7 922 322"/>
<path class="t" d="M937 242C939.5 241.3 946.7 238.3 952 238C957.3 237.7 964.4 238.7 968.6 240.4C972.8 242.1 975 245.4 977 248C979 250.6 980 253.5 980.5 256C981 258.5 980.2 260.8 980 263C979.8 265.2 979.2 268 979 269"/>
<path class="t" d="M968.6 240.4C969.2 241.7 971.1 245.1 972 248C972.9 250.9 973.8 254.7 974 258C974.2 261.3 973.2 266.3 973 268"/>
<path class="l" d="M966 267C967 267.8 970.3 269.8 972 272C973.7 274.2 975.3 278.7 976 280"/>
<ellipse class="w" cx="962.5" cy="293" rx="11.5" ry="25" transform="rotate(12 962.5 293)" style="fill:none;stroke-width:1.5"/>
<ellipse class="w" cx="961" cy="294" rx="8.5" ry="20" transform="rotate(12 961 294)" style="fill:none"/>
<ellipse class="w" cx="960" cy="295" rx="2.4" ry="4.6" transform="rotate(12 960 295)" style="fill:none"/>
<polyline class="l" points="960,290 963,276"/>
<polyline class="l" points="957.5,293 952.5,287"/>
<polyline class="l" points="958,298 953,309"/>
<polyline class="l" points="962,299.5 964,312"/>
<polyline class="l" points="963,294 969,290"/>
<path class="l" d="M951 270C950.2 272 947.2 277.7 946 282C944.8 286.3 944 291.3 944 296C944 300.7 945 305.7 946 310C947 314.3 949.3 320 950 322"/>
<polyline class="b" points="940,303 948,300"/>
</g>
<!-- p50_right -->
<polyline class="l" points="570,305 600,317 650,336 700,355 722,363.5"/>
<polyline class="h" points="570.9,302.8 600.9,314.8 650.9,333.8 700.9,352.8 722.9,361.3" style="stroke-width:3.6"/>
<polyline class="t" points="592,327 640,345 700,367.5" stroke-dasharray="14 3"/>
<polyline class="t" points="596,322.5 650,343 712,366"/>
<path class="l" d="M722 363.5C722.8 363.9 725.8 364.9 727 366C728.2 367.1 728.9 368.5 729 370C729.1 371.5 728.7 373.7 727.5 375C726.3 376.3 722.9 377.5 722 378"/>
<polyline class="l" points="727,375.5 700,388 660,403 620,418 585,431.5 579,433"/>
<polyline class="h" points="728.1,377.9 701,390.4 660.9,405.4 620.9,420.4 585.9,433.9 579.6,435.5" style="stroke-width:3.4"/>
<polyline class="t" points="729.5,380.9 702.3,393.6 662.1,408.6 622.1,423.6 587.1,437.1 580.5,438.8"/>
<path class="t" d="M592 343C592.7 342.6 595 340 596 340.5C597 341 597.2 344.1 598 346C598.8 347.9 600.8 350 601 352C601.2 354 599.3 357 599 358"/>
<path class="t" d="M624 357C624.5 358.2 626.8 361.7 627 364C627.2 366.3 624.3 369.5 625 371C625.7 372.5 629.2 373 631 373C632.8 373 635.2 371.3 636 371"/>
<path class="t" d="M656 369C657.3 370 661 373.5 664 375C667 376.5 670.7 377.7 674 378C677.3 378.3 682.3 377.2 684 377"/>
<path class="t" d="M686 362C686.8 362.7 689.7 364.7 691 366C692.3 367.3 693.5 369.3 694 370"/>
<polyline class="t" points="590,395 592,399"/>
<polyline class="t" points="598,338 600,341"/>
<polyline class="l" points="652,415 643,468"/>
<polyline class="l" points="657,413 648,465"/>
<polyline class="l" points="694,396 698.5,413"/>
<polyline class="l" points="699,394 703,409"/>
<path class="w" d="M652 466L700.5 411.5L705 409L712 413.5L713 419.5L661 480.5L655 484.5L645 482Q641 477 643 470Q646 465.5 652 466Z"/>
<polyline class="l" points="654,472.5 706,414"/>
<polyline class="t" points="657.5,476.5 709,417"/>
<path class="l" d="M652 466C651.7 467.3 649.5 470.9 650 474C650.5 477.1 654.2 482.8 655 484.5"/>
<polyline class="t" points="647,469 658,478"/>
<polyline class="l" points="700.5,411.5 700,404 703,402 712,407 712,413.5"/>
<polygon class="w" points="674,409 682,409 682,414 680,414 680,423 676,423 676,414 674,414" style="stroke-width:1.4"/>
<polyline class="t" points="674,411.5 682,411.5"/>
<ellipse class="w" cx="678" cy="427" rx="4" ry="2" style="stroke-width:1.5;fill:#888"/>
<polyline class="t" points="678,429 678,484"/>
<ellipse class="w" cx="678" cy="450" rx="2.4" ry="1.1"/>
<ellipse class="w" cx="678" cy="485" rx="2.2" ry="1"/>
<polyline class="t" points="703,421 703,456"/>
<ellipse class="w" cx="703" cy="423.5" rx="2.4" ry="1.1"/>
<ellipse class="w" cx="703" cy="456.5" rx="2.2" ry="1"/>
<polyline class="t" points="654.7,485 654.7,514" stroke-dasharray="5 2"/>
<ellipse class="w" cx="654.7" cy="515.5" rx="2.2" ry="1"/>
<path class="l" d="M641 518L702 449.5Q706 446.5 710 448.5Q714.5 451.5 712 456L655 522Q650 527 643.5 526Q638 523 641 518Z"/>
<path class="t" d="M645.5 518.5L703.5 453Q706.5 451 708.5 452.5Q709.5 454.5 708 456.5L652 520.5Q648 523.5 645.5 522.5Q644 520.5 645.5 518.5Z"/>
<polyline class="t" points="766.6,393.4 686,515.8"/>
<polyline class="t" points="772,396 693.7,518.4"/>
<polyline class="t" points="735,409 660,500" stroke-dasharray="30 60"/>
<polyline class="t" points="741,405 697,470"/>
<polyline class="l" points="704,409.5 766.6,422"/>
<path class="w" d="M716 391Q716 384 723 384Q730 384 730 391L729.5 394Q723 396.5 716.5 394Z" style="stroke-width:1.3"/>
<polyline class="t" points="716.2,389.5 729.8,389.5"/>
<polygon class="w" points="721,395.5 725,395.5 724.6,402 721.4,402"/>
<ellipse class="w" cx="723" cy="404.3" rx="6" ry="2.5" style="stroke-width:1.3"/>
<ellipse class="w" cx="723" cy="403.6" rx="2.4" ry="1"/>
<polyline class="t" points="731,387 748,389.5 744,396" stroke-dasharray="6 2"/>
<polyline class="t" points="727,407 741,409" stroke-dasharray="5 2"/>
<ellipse class="w" cx="723" cy="347.8" rx="2.4" ry="2.4"/>
<polygon class="w" points="721.6,350 724.4,350 724,359 722,359" style="fill:#555"/>
<polyline class="b" points="719.5,352.5 726.5,352.5"/>
<ellipse class="w" cx="723" cy="361.5" rx="3" ry="1.2"/>
<polygon class="w" points="751,405 766.6,409 766.6,422 772,414.5 774,416 767,426.5 751,418"/>
<polyline class="t" points="766.6,422 767,426.5"/>
<ellipse class="w" cx="757" cy="412" rx="0.8" ry="0.8"/>
<ellipse class="w" cx="761.5" cy="413.5" rx="0.8" ry="0.8"/>
<polygon class="w" points="763,393 766,391 779,396.5 780,401 777.5,404.5 770,403 766.5,399 763,398" style="stroke-width:1.3"/>
<polygon class="w" points="768.5,394.5 777,398 777,402 768.5,398.5" style="fill:#333"/>
<polyline class="l" points="766,399 759,403.5"/>
<ellipse class="w" cx="782" cy="388.5" rx="2.6" ry="3" transform="rotate(-20 782 388.5)" style="fill:#444"/>
<ellipse class="w" cx="787.5" cy="384.5" rx="2.2" ry="2.8" transform="rotate(-20 787.5 384.5)" style="stroke-width:1.4"/>
<ellipse class="w" cx="794" cy="393.5" rx="4" ry="4.4" style="stroke-width:1.6"/>
<ellipse class="w" cx="793" cy="392.5" rx="1.8" ry="2"/>
<path class="l" d="M777 405.5C778 406 780.5 408.2 783 408.5C785.5 408.8 789.5 407.1 792 407C794.5 406.9 796.4 407.2 798 408C799.6 408.8 801 410.3 801.5 412C802 413.7 801.9 416 801 418C800.1 420 797.8 422.2 796 424C794.2 425.8 792 427.5 790 429C788 430.5 785 432.3 784 433"/>
<path class="l" d="M776.2 407.1C777.3 407.6 780.2 410 782.8 410.3C785.5 410.6 789.7 408.9 792.1 408.8C794.5 408.7 795.9 409 797.2 409.6C798.4 410.2 799.4 411.2 799.8 412.5C800.1 413.8 800.2 415.5 799.4 417.3C798.5 419 796.5 421 794.7 422.7C793 424.4 790.9 426.1 788.9 427.6C787 429 784 430.8 783 431.5"/>
<polygon class="w" points="784,431.5 786,435 777,440 775,436.5" style="fill:#666"/>
<ellipse class="w" cx="772.5" cy="439.5" rx="2.6" ry="3.4" transform="rotate(30 772.5 439.5)" style="stroke-width:1.4"/>
<polygon class="w" points="775,445 782,443.5 783.5,446.5 783,451 776,452.5 774.5,450" style="stroke-width:1.3"/>
<polyline class="t" points="776,448 783,446.5"/>
<ellipse class="w" cx="777.5" cy="456" rx="2.2" ry="2.8" style="stroke-width:1.4"/>
<polygon class="w" points="740,428.5 742,427 745.5,423 746.5,424 743.5,428.5" style="fill:#444"/>
<ellipse class="w" cx="740.5" cy="429.5" rx="1.4" ry="1.4" style="fill:#333"/>
<path class="w" d="M612 283Q611 279 615.5 278.5L628 281.5L640 287.5L657 292.5Q660.5 294.5 658 298L648 302L641 306L620 300.5L612 297Z"/>
<polyline class="t" points="614,287 640,296 656,294"/>
<polyline class="t" points="640,296 641,306"/>
<path class="t" d="M615.5 278.5C615.2 279.2 613.9 281.5 614 283C614.1 284.5 615.7 286.8 616 287.5"/>
<polygon class="w" points="601,294 607,290 612,291 612,302 606,304 601,302"/>
<polygon class="w" points="603,296.5 606,296.5 606,300.5 603,300.5" style="stroke-width:.8;fill:#555"/>
<path class="t" d="M624 283.5Q629 281.5 634 284.5L641 287"/>
<ellipse class="w" cx="628" cy="286.5" rx="2.6" ry="1.4" transform="rotate(15 628 286.5)"/>
<ellipse class="w" cx="633" cy="298.5" rx="3" ry="1.2" transform="rotate(12 633 298.5)"/>
<polygon class="w" points="638.5,258 645.5,258 643.3,262 643,272.5 641,272.5 640.7,262" style="stroke-width:1.3"/>
<ellipse class="w" cx="642" cy="279.5" rx="4.2" ry="2.2" style="stroke-width:1.4;fill:#aaa"/>
<polyline class="l" points="642,281.5 642,302"/>
<!-- p60_usa -->
<path class="w" d="M897.5 429Q903 425.5 910.5 428.5Q911 432 906.5 433L906.8 438H902.6L902.4 433.3Q897.5 432.5 897.5 429Z" style="stroke-width:1.4"/>
<polyline class="t" points="903,438 904.5,441 906.3,438"/>
<ellipse class="w" cx="902.5" cy="447" rx="4.6" ry="2" transform="rotate(8 902.5 447)" style="stroke-width:1.5"/>
<polygon class="w" points="900.5,449.5 904.5,449.5 904,458.5 901,458.5" style="stroke-width:1.3"/>
<polyline class="t" points="900.8,452 904.3,452"/>
<polyline class="t" points="900.9,455 904.2,455"/>
<ellipse class="w" cx="900.5" cy="465.5" rx="6.4" ry="2.4" transform="rotate(8 900.5 465.5)" style="stroke-width:1.7"/>
<path class="w" d="M885.5 473Q896 466.5 908.5 472L897.5 522Q889 528.5 879.5 523Z"/>
<ellipse class="w" cx="897" cy="471.5" rx="11.6" ry="3.4" transform="rotate(-2 897 471.5)"/>
<ellipse class="w" cx="898" cy="471" rx="5" ry="1.6" transform="rotate(-2 898 471)" style="fill:#999"/>
<path class="t" d="M879.5 523C880.9 523.6 885 526.7 888 526.5C891 526.3 895.9 522.8 897.5 522"/>
<polyline class="t" points="903,476 893,521" stroke-dasharray="12 5"/>
<ellipse class="w" cx="887.5" cy="531" rx="7.4" ry="2.8" transform="rotate(10 887.5 531)" style="stroke-width:1.6"/>
<path class="l" d="M883 536C882.5 539.2 881 549.3 880 555C879 560.7 878.4 566.2 877 570C875.6 573.8 872.3 575 871.5 578C870.7 581 871.1 584.7 872 588C872.9 591.3 875.5 594.7 877 598C878.5 601.3 880.3 606.3 881 608"/>
<path class="l" d="M890 537C889.5 540.2 887.9 550.3 887 556C886.1 561.7 885.6 567.2 884.5 571C883.4 574.8 881 576.2 880.5 579C880 581.8 880.6 584.8 881.5 588C882.4 591.2 884.6 594.8 886 598C887.4 601.2 889.3 605.5 890 607"/>
<path class="t" d="M877 570C877.7 570.7 880.4 572.5 881 574C881.6 575.5 880.6 578.2 880.5 579"/>
<!-- p90_labels -->
<polyline class="l" points="121,54 254,163" style="stroke:#fff;stroke-width:3.4;stroke-linecap:butt"/>
<polyline class="l" points="121,81 237.5,170" style="stroke:#fff;stroke-width:3.4;stroke-linecap:butt"/>
<polyline class="l" points="121,109 185,143.5" style="stroke:#fff;stroke-width:3.4;stroke-linecap:butt"/>
<polyline class="l" points="121,137 156,156" style="stroke:#fff;stroke-width:3.4;stroke-linecap:butt"/>
<polyline class="l" points="167,165 260,223" style="stroke:#fff;stroke-width:3.4;stroke-linecap:butt"/>
<polyline class="l" points="179,161 260,223" style="stroke:#fff;stroke-width:3.4;stroke-linecap:butt"/>
<polyline class="l" points="154,169 167,165" style="stroke:#fff;stroke-width:3.4;stroke-linecap:butt"/>
<polyline class="l" points="179,161 194,156" style="stroke:#fff;stroke-width:3.4;stroke-linecap:butt"/>
<polyline class="l" points="265.5,56 268,91.5" style="stroke:#fff;stroke-width:3.4;stroke-linecap:butt"/>
<polyline class="l" points="293,56 293,83" style="stroke:#fff;stroke-width:3.4;stroke-linecap:butt"/>
<polyline class="l" points="319,56 312,80" style="stroke:#fff;stroke-width:3.4;stroke-linecap:butt"/>
<polyline class="l" points="323,123 432.2,258.5" style="stroke:#fff;stroke-width:3.4;stroke-linecap:butt"/>
<polyline class="l" points="348,123 433.2,257.5" style="stroke:#fff;stroke-width:3.4;stroke-linecap:butt"/>
<polyline class="l" points="455.5,210.4 517,200.5" style="stroke:#fff;stroke-width:3.4;stroke-linecap:butt"/>
<polyline class="l" points="466,225.4 481,227.5" style="stroke:#fff;stroke-width:3.4;stroke-linecap:butt"/>
<polyline class="l" points="121,264 161,276" style="stroke:#fff;stroke-width:3.4;stroke-linecap:butt"/>
<polyline class="l" points="120,290 140,290" style="stroke:#fff;stroke-width:3.4;stroke-linecap:butt"/>
<polyline class="l" points="120,316 161,339" style="stroke:#fff;stroke-width:3.4;stroke-linecap:butt"/>
<polyline class="l" points="275,281 260,291" style="stroke:#fff;stroke-width:3.4;stroke-linecap:butt"/>
<polyline class="l" points="276,318 260,309" style="stroke:#fff;stroke-width:3.4;stroke-linecap:butt"/>
<polyline class="l" points="287,349 281,341" style="stroke:#fff;stroke-width:3.4;stroke-linecap:butt"/>
<polyline class="l" points="309,356 342,348" style="stroke:#fff;stroke-width:3.4;stroke-linecap:butt"/>
<polyline class="l" points="316,376 344,359" style="stroke:#fff;stroke-width:3.4;stroke-linecap:butt"/>
<polyline class="l" points="322,398 346,368" style="stroke:#fff;stroke-width:3.4;stroke-linecap:butt"/>
<polyline class="l" points="362,349 352,339 335,337" style="stroke:#fff;stroke-width:3.4;stroke-linecap:butt"/>
<polyline class="l" points="468,322 446,308" style="stroke:#fff;stroke-width:3.4;stroke-linecap:butt"/>
<polyline class="l" points="467,344 442,340" style="stroke:#fff;stroke-width:3.4;stroke-linecap:butt"/>
<polyline class="l" points="666,318 650,303" style="stroke:#fff;stroke-width:3.4;stroke-linecap:butt"/>
<polyline class="l" points="646,364 675,410" style="stroke:#fff;stroke-width:3.4;stroke-linecap:butt"/>
<polyline class="l" points="647,391 672,423" style="stroke:#fff;stroke-width:3.4;stroke-linecap:butt"/>
<polyline class="l" points="873.7,216.6 863,225.9" style="stroke:#fff;stroke-width:3.4;stroke-linecap:butt"/>
<polyline class="l" points="734,347 725,353" style="stroke:#fff;stroke-width:3.4;stroke-linecap:butt"/>
<polyline class="l" points="757,347 728,362" style="stroke:#fff;stroke-width:3.4;stroke-linecap:butt"/>
<polyline class="l" points="783,347 731,388" style="stroke:#fff;stroke-width:3.4;stroke-linecap:butt"/>
<polyline class="l" points="808,347 729,403" style="stroke:#fff;stroke-width:3.4;stroke-linecap:butt"/>
<polyline class="l" points="838,347 779,392" style="stroke:#fff;stroke-width:3.4;stroke-linecap:butt"/>
<polyline class="l" points="866,347 786,397" style="stroke:#fff;stroke-width:3.4;stroke-linecap:butt"/>
<polyline class="l" points="523,447 523,473" style="stroke:#fff;stroke-width:3.4;stroke-linecap:butt"/>
<polyline class="l" points="138.6,534.8 240,334" style="stroke:#fff;stroke-width:3.4;stroke-linecap:butt"/>
<polyline class="l" points="165.9,534.8 250.5,350" style="stroke:#fff;stroke-width:3.4;stroke-linecap:butt"/>
<polyline class="l" points="192.1,534.8 265,408.6" style="stroke:#fff;stroke-width:3.4;stroke-linecap:butt"/>
<polyline class="l" points="219.6,534.8 278,417" style="stroke:#fff;stroke-width:3.4;stroke-linecap:butt"/>
<polyline class="l" points="244.7,534.8 283,456.7" style="stroke:#fff;stroke-width:3.4;stroke-linecap:butt"/>
<polyline class="l" points="272.6,534.8 350.6,403" style="stroke:#fff;stroke-width:3.4;stroke-linecap:butt"/>
<polyline class="l" points="301.5,534.8 360.7,420" style="stroke:#fff;stroke-width:3.4;stroke-linecap:butt"/>
<polyline class="l" points="329.2,534.8 400,363" style="stroke:#fff;stroke-width:3.4;stroke-linecap:butt"/>
<polyline class="l" points="351,534.8 414.5,440.5" style="stroke:#fff;stroke-width:3.4;stroke-linecap:butt"/>
<polyline class="l" points="380.4,534.8 433,435.5" style="stroke:#fff;stroke-width:3.4;stroke-linecap:butt"/>
<polyline class="l" points="407,534.8 448,465.8" style="stroke:#fff;stroke-width:3.4;stroke-linecap:butt"/>
<polyline class="l" points="430.3,597.5 463.6,447" style="stroke:#fff;stroke-width:3.4;stroke-linecap:butt"/>
<polyline class="l" points="455.6,597.5 472.7,462" style="stroke:#fff;stroke-width:3.4;stroke-linecap:butt"/>
<polyline class="l" points="483.9,597.5 487,478" style="stroke:#fff;stroke-width:3.4;stroke-linecap:butt"/>
<polyline class="l" points="511.3,597.5 500,482" style="stroke:#fff;stroke-width:3.4;stroke-linecap:butt"/>
<polyline class="l" points="537.3,597.5 547,460" style="stroke:#fff;stroke-width:3.4;stroke-linecap:butt"/>
<polyline class="l" points="563.6,597.5 562,458" style="stroke:#fff;stroke-width:3.4;stroke-linecap:butt"/>
<polyline class="l" points="592.6,597.5 595,503.6" style="stroke:#fff;stroke-width:3.4;stroke-linecap:butt"/>
<polyline class="l" points="618,597.5 618,512.7" style="stroke:#fff;stroke-width:3.4;stroke-linecap:butt"/>
<polyline class="l" points="642.5,597.5 615,437" style="stroke:#fff;stroke-width:3.4;stroke-linecap:butt"/>
<polyline class="l" points="667.7,597.5 629,437" style="stroke:#fff;stroke-width:3.4;stroke-linecap:butt"/>
<polyline class="l" points="691.8,597.5 750,406" style="stroke:#fff;stroke-width:3.4;stroke-linecap:butt"/>
<polyline class="l" points="719.6,597.5 742.5,429.5" style="stroke:#fff;stroke-width:3.4;stroke-linecap:butt"/>
<polyline class="l" points="745.1,597.5 768.5,440.5" style="stroke:#fff;stroke-width:3.4;stroke-linecap:butt"/>
<polyline class="l" points="772.6,597.5 776,462" style="stroke:#fff;stroke-width:3.4;stroke-linecap:butt"/>
<polyline class="l" points="948,426 910,430" style="stroke:#fff;stroke-width:3.4;stroke-linecap:butt"/>
<polyline class="l" points="948,455 907,447" style="stroke:#fff;stroke-width:3.4;stroke-linecap:butt"/>
<polyline class="l" points="948,481 906,466" style="stroke:#fff;stroke-width:3.4;stroke-linecap:butt"/>
<polyline class="l" points="948,509 899,503" style="stroke:#fff;stroke-width:3.4;stroke-linecap:butt"/>
<polyline class="l" points="948,536 893,531" style="stroke:#fff;stroke-width:3.4;stroke-linecap:butt"/>
<polyline class="l" points="318,198 323,187" style="stroke:#fff;stroke-width:3.4;stroke-linecap:butt"/>
<polyline class="l" points="121,54 254,163"/>
<polyline class="l" points="121,81 237.5,170"/>
<polyline class="l" points="121,109 185,143.5"/>
<polyline class="l" points="121,137 156,156"/>
<polyline class="l" points="167,165 260,223" style="stroke-width:1.45"/>
<polyline class="l" points="179,161 260,223" style="stroke-width:1.45"/>
<polyline class="l" points="154,169 167,165"/>
<polyline class="l" points="179,161 194,156"/>
<polyline class="l" points="265.5,56 268,91.5"/>
<polyline class="l" points="293,56 293,83"/>
<polyline class="l" points="319,56 312,80"/>
<polyline class="l" points="323,123 432.2,258.5" style="stroke-width:1.45"/>
<polyline class="l" points="348,123 433.2,257.5" style="stroke-width:1.45"/>
<polyline class="l" points="455.5,210.4 517,200.5"/>
<polyline class="l" points="466,225.4 481,227.5"/>
<polyline class="l" points="121,264 161,276"/>
<polyline class="l" points="120,290 140,290"/>
<polyline class="l" points="120,316 161,339"/>
<polyline class="l" points="275,281 260,291"/>
<polyline class="l" points="276,318 260,309"/>
<polyline class="l" points="287,349 281,341"/>
<polyline class="l" points="309,356 342,348"/>
<polyline class="l" points="316,376 344,359"/>
<polyline class="l" points="322,398 346,368"/>
<polyline class="l" points="362,349 352,339 335,337"/>
<polyline class="l" points="468,322 446,308"/>
<polyline class="l" points="467,344 442,340"/>
<polyline class="l" points="666,318 650,303"/>
<polyline class="l" points="646,364 675,410"/>
<polyline class="l" points="647,391 672,423"/>
<polyline class="l" points="873.7,216.6 863,225.9"/>
<polyline class="l" points="734,347 725,353"/>
<polyline class="l" points="757,347 728,362"/>
<polyline class="l" points="783,347 731,388"/>
<polyline class="l" points="808,347 729,403"/>
<polyline class="l" points="838,347 779,392"/>
<polyline class="l" points="866,347 786,397"/>
<polyline class="l" points="523,447 523,473"/>
<polyline class="l" points="138.6,534.8 240,334"/>
<polyline class="l" points="165.9,534.8 250.5,350"/>
<polyline class="l" points="192.1,534.8 265,408.6"/>
<polyline class="l" points="219.6,534.8 278,417"/>
<polyline class="l" points="244.7,534.8 283,456.7"/>
<polyline class="l" points="272.6,534.8 350.6,403"/>
<polyline class="l" points="301.5,534.8 360.7,420"/>
<polyline class="l" points="329.2,534.8 400,363"/>
<polyline class="l" points="351,534.8 414.5,440.5"/>
<polyline class="l" points="380.4,534.8 433,435.5"/>
<polyline class="l" points="407,534.8 448,465.8"/>
<polyline class="l" points="430.3,597.5 463.6,447"/>
<polyline class="l" points="455.6,597.5 472.7,462"/>
<polyline class="l" points="483.9,597.5 487,478"/>
<polyline class="l" points="511.3,597.5 500,482"/>
<polyline class="l" points="537.3,597.5 547,460"/>
<polyline class="l" points="563.6,597.5 562,458"/>
<polyline class="l" points="592.6,597.5 595,503.6"/>
<polyline class="l" points="618,597.5 618,512.7"/>
<polyline class="l" points="642.5,597.5 615,437"/>
<polyline class="l" points="667.7,597.5 629,437"/>
<polyline class="l" points="691.8,597.5 750,406"/>
<polyline class="l" points="719.6,597.5 742.5,429.5"/>
<polyline class="l" points="745.1,597.5 768.5,440.5"/>
<polyline class="l" points="772.6,597.5 776,462"/>
<polyline class="l" points="948,426 910,430"/>
<polyline class="l" points="948,455 907,447"/>
<polyline class="l" points="948,481 906,466"/>
<polyline class="l" points="948,509 899,503"/>
<polyline class="l" points="948,536 893,531"/>
<polyline class="l" points="318,198 323,187"/>
<polyline class="t" points="313,251 305,267"/>
<polyline class="t" points="299,270 292,274"/>
<path class="l" d="M593.5 250V271.5L499 283L593.5 282V300Q594.5 306.5 601 309L618 315"/>
<path class="t" d="M451 197.5Q447 198 447.5 203V211Q447.5 215 444 215.5Q447.5 216 447.5 220V228Q447 233 451 233.5"/>
<text class="n" transform="translate(112 58.5) scale(0.915 1)">31</text>
<text class="n" transform="translate(112 85.5) scale(0.915 1)">32</text>
<text class="n" transform="translate(112 113) scale(0.915 1)">10</text>
<text class="n" transform="translate(115.5 139.5) scale(0.915 1)">9</text>
<text class="n" transform="translate(265 52.5) scale(0.915 1)">5</text>
<text class="n" transform="translate(293 52.5) scale(0.915 1)">7</text>
<text class="n" transform="translate(319 52.5) scale(0.915 1)">6</text>
<text class="n" transform="translate(434.5 220.5) scale(0.915 1)">2</text>
<text class="n" transform="translate(457 229.5) scale(0.915 1)">3</text>
<text class="n" transform="translate(113 267) scale(0.915 1)">13</text>
<text class="n" transform="translate(113 295) scale(0.915 1)">12</text>
<text class="n" transform="translate(113 318) scale(0.915 1)">11</text>
<text class="n" transform="translate(281 282.3) scale(0.915 1)">15</text>
<text class="n" transform="translate(283 323.5) scale(0.915 1)">16</text>
<text class="n" transform="translate(288 360.3) scale(0.915 1)">20</text>
<text class="n" transform="translate(315 360) scale(0.915 1)">26</text>
<text class="n" transform="translate(314.5 385) scale(0.915 1)">24</text>
<text class="n" transform="translate(316 407.7) scale(0.915 1)">25</text>
<text class="n" transform="translate(370 359.5) scale(0.915 1)">55</text>
<text class="n" transform="translate(478 330.5) scale(0.915 1)">29</text>
<text class="n" transform="translate(478 348) scale(0.915 1)">30</text>
<text class="n" transform="translate(670.5 329) scale(0.915 1)">8</text>
<text class="n" transform="translate(638.5 363.8) scale(0.915 1)">40</text>
<text class="n" transform="translate(638.5 390.7) scale(0.915 1)">41</text>
<text class="n" transform="translate(875.7 216.7) scale(0.915 1)">4</text>
<text class="n" transform="translate(523 444.7) scale(0.915 1)">48</text>
<text class="n" transform="translate(737 343.6) scale(0.915 1)">37</text>
<text class="n" transform="translate(764.5 343.6) scale(0.915 1)">38</text>
<text class="n" transform="translate(791.5 343.6) scale(0.915 1)">42</text>
<text class="n" transform="translate(816 343.6) scale(0.915 1)">43</text>
<text class="n" transform="translate(844 343.6) scale(0.915 1)">52</text>
<text class="n" transform="translate(873.5 343.6) scale(0.915 1)">53</text>
<text class="n" transform="translate(137 545.6) scale(0.915 1)">14</text>
<text class="n" transform="translate(165 545.6) scale(0.915 1)">17</text>
<text class="n" transform="translate(192 545.6) scale(0.915 1)">18</text>
<text class="n" transform="translate(218.7 545.6) scale(0.915 1)">19</text>
<text class="n" transform="translate(245.3 545.6) scale(0.915 1)">1</text>
<text class="n" transform="translate(273.5 545.6) scale(0.915 1)">22</text>
<text class="n" transform="translate(301 545.6) scale(0.915 1)">23</text>
<text class="n" transform="translate(328.7 545.6) scale(0.915 1)">39</text>
<text class="n" transform="translate(351.6 545.6) scale(0.915 1)">45</text>
<text class="n" transform="translate(382 545.6) scale(0.915 1)">44</text>
<text class="n" transform="translate(407.8 545.6) scale(0.915 1)">21</text>
<text class="n" transform="translate(428.4 608.8) scale(0.915 1)">46</text>
<text class="n" transform="translate(454.5 608.8) scale(0.915 1)">47</text>
<text class="n" transform="translate(483 608.8) scale(0.915 1)">33</text>
<text class="n" transform="translate(511 608.8) scale(0.915 1)">34</text>
<text class="n" transform="translate(537.5 608.8) scale(0.915 1)">35</text>
<text class="n" transform="translate(564.4 608.8) scale(0.915 1)">36</text>
<text class="n" transform="translate(592.7 608.8) scale(0.915 1)">28</text>
<text class="n" transform="translate(618 608.8) scale(0.915 1)">27</text>
<text class="n" transform="translate(643 608.8) scale(0.915 1)">38</text>
<text class="n" transform="translate(667 608.8) scale(0.915 1)">37</text>
<text class="n" transform="translate(689 608.8) scale(0.915 1)">51</text>
<text class="n" transform="translate(717 608.8) scale(0.915 1)">50</text>
<text class="n" transform="translate(743.6 608.8) scale(0.915 1)">49</text>
<text class="n" transform="translate(771.6 608.8) scale(0.915 1)">54</text>
<text class="n" transform="translate(960 430.7) scale(0.915 1)">26</text>
<text class="n" transform="translate(960 459.7) scale(0.915 1)">24</text>
<text class="n" transform="translate(960 486.3) scale(0.915 1)">25</text>
<text class="n" transform="translate(960 513.5) scale(0.915 1)">22</text>
<text class="n" transform="translate(960 540.7) scale(0.915 1)">23</text>
<text class="n" transform="translate(326.6 201.5) scale(0.93 1)" style="font-size:12px">A</text>
<text class="n" transform="translate(315.5 252.5) scale(0.93 1)" style="font-size:12px">A</text>
<text class="n" transform="translate(888.9 621.6) scale(0.975 1)" style="font-size:15.5px">Vale per USA</text>
<text class="n" transform="translate(889.8 639.5) scale(0.938 1)" style="font-size:15.5px">Valid for USA</text>
<!-- p99_wm -->
<g style="mix-blend-mode:multiply">
<g id="wm">
<text id="wm1" aria-label="scuderia" transform="translate(0 358) scale(1 1.084)" style="font-size:160px;fill:#fbdddc"><tspan x="78.4" textLength="95.3" lengthAdjust="spacingAndGlyphs">s</tspan><tspan x="170" textLength="90.2" lengthAdjust="spacingAndGlyphs">c</tspan><tspan x="254.4" textLength="99.9" lengthAdjust="spacingAndGlyphs">u</tspan><tspan x="353.7" textLength="96" lengthAdjust="spacingAndGlyphs">d</tspan><tspan x="451" textLength="91.9" lengthAdjust="spacingAndGlyphs">e</tspan><tspan x="538.4" textLength="54.7" lengthAdjust="spacingAndGlyphs">r</tspan><tspan x="599.5" textLength="43.7" lengthAdjust="spacingAndGlyphs">i</tspan><tspan x="643.8" textLength="77.8" lengthAdjust="spacingAndGlyphs">a</tspan></text>
<text id="wm2" aria-label="car parts" y="419" x="84.5 167 250 330 386.5 480 560 629 707" style="font-size:44px;fill:#e3e3e3">car parts</text>
</g>
<defs><clipPath id="fc"><polygon points="744,240 781,221 800,221 860,262 1030,372 1030,430 800,430 770,372 746,300"/></clipPath></defs>
<g fill="#e4e4e4" clip-path="url(#fc)">
<polygon points="618.6,158.2 665.6,169.3 662.5,189.8 614.3,179.8"/>
<polygon points="709.3,180.4 749.7,191.4 749.1,209.6 707.5,199.7"/>
<polygon points="786.9,202.5 820.8,213.6 822.7,229.5 787.5,219.6"/>
<polygon points="662.5,189.8 707.5,199.7 707.4,223.1 661.3,214.3"/>
<polygon points="749.1,209.6 787.5,219.6 790,240.7 750.4,231.9"/>
<polygon points="822.7,229.5 854.5,239.4 859.5,258.3 826.4,249.5"/>
<polygon points="611.8,205.5 661.3,214.3 661.8,242.8 611.1,235.1"/>
<polygon points="707.4,223.1 750.4,231.9 753.4,258.1 709.3,250.4"/>
<polygon points="790,240.7 826.4,249.5 831.9,273.4 794.3,265.8"/>
<polygon points="859.5,258.3 889.3,267 897.4,288.7 866.3,281.1"/>
<polygon points="661.8,242.8 709.3,250.4 712.9,281.8 664.2,275.3"/>
<polygon points="753.4,258.1 794.3,265.8 800.4,294.9 758.3,288.3"/>
<polygon points="831.9,273.4 866.3,281.1 874.9,307.9 839.3,301.4"/>
<polygon points="897.4,288.7 925.2,296.4 936.2,321 907.2,314.5"/>
<polygon points="612.3,268.7 664.2,275.3 668.4,311.8 615.2,306.4"/>
<polygon points="712.9,281.8 758.3,288.3 765,322.6 718.3,317.2"/>
<polygon points="800.4,294.9 839.3,301.4 848.4,333.4 808.3,328"/>
<polygon points="874.9,307.9 907.2,314.5 918.8,344.2 885.3,338.8"/>
<polygon points="936.2,321 962,327.5 976.2,355 949.1,349.6"/>
<polygon points="668.4,311.8 718.3,317.2 725.6,356.6 674.4,352.3"/>
<polygon points="765,322.6 808.3,328 818.1,365.1 773.5,360.9"/>
<polygon points="848.4,333.4 885.3,338.8 897.5,373.7 859.4,369.4"/>
<polygon points="918.8,344.2 949.1,349.6 963.8,382.2 932.3,377.9"/>
<polygon points="976.2,355 999.9,360.4 1017.1,390.7 992.1,386.4"/>
<polygon points="725.6,356.6 773.5,360.9 783.8,403.1 734.6,400"/>
<polygon points="818.1,365.1 859.4,369.4 872.2,409.4 829.6,406.3"/>
<polygon points="897.5,373.7 932.3,377.9 947.6,415.7 911.5,412.5"/>
<polygon points="963.8,382.2 992.1,386.4 1009.9,421.9 980.4,418.8"/>
</g>
</g>
</svg>
</body></html>
